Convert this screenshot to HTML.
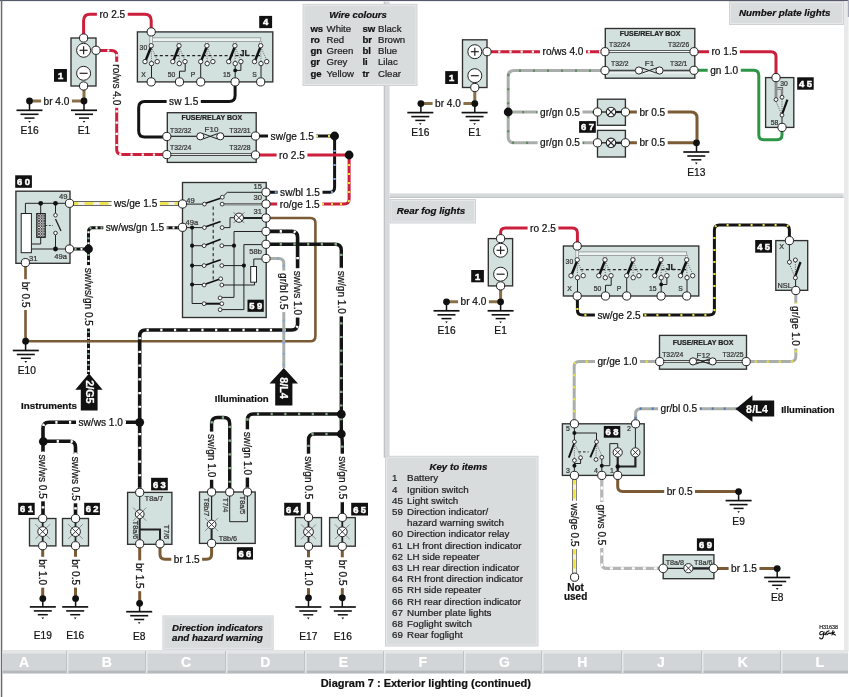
<!DOCTYPE html>
<html><head><meta charset="utf-8"><style>
html,body{margin:0;padding:0;background:#fff;}
svg{display:block;will-change:transform;}
text{font-family:"Liberation Sans",sans-serif;}
</style></head><body>
<svg width="849" height="697" viewBox="0 0 849 697">
<rect width="849" height="697" fill="#fff"/>
<defs><pattern id="hatch" width="2.6" height="2.6" patternUnits="userSpaceOnUse"><rect width="2.6" height="2.6" fill="#e8e8e8"/><path d="M0,2.6 L2.6,0 M0,0 L2.6,2.6" stroke="#333" stroke-width="0.8"/></pattern></defs>
<rect x="0" y="0" width="849" height="1.1" fill="#55596a"/>
<rect x="0.8" y="0" width="1.5" height="697" fill="#6a6c72"/>
<rect x="844" y="1.5" width="4.6" height="650" fill="#e8e9ea"/>
<rect x="847.8" y="0" width="1.2" height="17" fill="#a4a8b8"/>
<rect x="383.8" y="1.5" width="5.8" height="456" fill="#d6dadb"/>
<rect x="383.8" y="1.5" width="1.2" height="456" fill="#bfc3c5"/>
<rect x="389.6" y="193.4" width="454" height="4.6" fill="#d6dadb"/>
<rect x="389.6" y="196.8" width="454" height="1.2" fill="#c2c6c8"/>
<rect x="2.5" y="650.2" width="845.5" height="23.2" fill="#d2d5d7"/>
<rect x="2.5" y="650.2" width="845.5" height="3.3" fill="#e3e5e6"/>
<rect x="2.5" y="670.6" width="845.5" height="2.8" fill="#b6b9bb"/>
<rect x="66" y="651" width="1.2" height="22" fill="#c0c3c5"/><rect x="67.2" y="651" width="1.2" height="22" fill="#eceeef"/>
<rect x="145" y="651" width="1.2" height="22" fill="#c0c3c5"/><rect x="146.2" y="651" width="1.2" height="22" fill="#eceeef"/>
<rect x="225" y="651" width="1.2" height="22" fill="#c0c3c5"/><rect x="226.2" y="651" width="1.2" height="22" fill="#eceeef"/>
<rect x="304" y="651" width="1.2" height="22" fill="#c0c3c5"/><rect x="305.2" y="651" width="1.2" height="22" fill="#eceeef"/>
<rect x="383" y="651" width="1.2" height="22" fill="#c0c3c5"/><rect x="384.2" y="651" width="1.2" height="22" fill="#eceeef"/>
<rect x="463" y="651" width="1.2" height="22" fill="#c0c3c5"/><rect x="464.2" y="651" width="1.2" height="22" fill="#eceeef"/>
<rect x="541" y="651" width="1.2" height="22" fill="#c0c3c5"/><rect x="542.2" y="651" width="1.2" height="22" fill="#eceeef"/>
<rect x="621" y="651" width="1.2" height="22" fill="#c0c3c5"/><rect x="622.2" y="651" width="1.2" height="22" fill="#eceeef"/>
<rect x="701" y="651" width="1.2" height="22" fill="#c0c3c5"/><rect x="702.2" y="651" width="1.2" height="22" fill="#eceeef"/>
<rect x="780" y="651" width="1.2" height="22" fill="#c0c3c5"/><rect x="781.2" y="651" width="1.2" height="22" fill="#eceeef"/>
<rect x="302.5" y="3.8" width="115.0" height="82.2" fill="#cfd3d5"/>
<rect x="304.0" y="5.3" width="112.0" height="79.2" fill="#d9dcdd" stroke="#e6e8e9" stroke-width="1"/>
<rect x="729" y="1" width="115" height="24" fill="#cfd3d5"/>
<rect x="730.5" y="2.5" width="112" height="21" fill="#d9dcdd" stroke="#e6e8e9" stroke-width="1"/>
<rect x="389.6" y="199" width="86.39999999999998" height="24.5" fill="#cfd3d5"/>
<rect x="391.1" y="200.5" width="83.39999999999998" height="21.5" fill="#d9dcdd" stroke="#e6e8e9" stroke-width="1"/>
<rect x="162.4" y="615.4" width="111.29999999999998" height="34.39999999999998" fill="#cfd3d5"/>
<rect x="163.9" y="616.9" width="108.29999999999998" height="31.399999999999977" fill="#d9dcdd" stroke="#e6e8e9" stroke-width="1"/>
<rect x="385" y="455.8" width="153.5" height="190.7" fill="#cfd3d5"/>
<rect x="386.5" y="457.3" width="150.5" height="187.7" fill="#d9dcdd" stroke="#e6e8e9" stroke-width="1"/>
<path d="M83.6,37.5 L83.6,20.7 Q83.6,14.2 90.1,14.2 L144.7,14.2 Q151.2,14.2 151.2,20.7 L151.2,31.9" fill="none" stroke="#cc1f3c" stroke-width="3.0"/>
<path d="M96.0,50.5 L111.7,50.5 Q116.7,50.5 116.7,55.5 L116.7,149.6 Q116.7,154.6 121.7,154.6 L166.8,154.6" fill="none" stroke="#cc1f3c" stroke-width="3.0"/>
<path d="M96.0,50.5 L111.7,50.5 Q116.7,50.5 116.7,55.5 L116.7,149.6 Q116.7,154.6 121.7,154.6 L166.8,154.6" fill="none" stroke="#ffffff" stroke-width="2.25" stroke-dasharray="2.2 9"/>
<path d="M84.0,86.0 L84.0,101.0 Q84.0,101.0 84.0,101.0 L29.5,101.0" fill="none" stroke="#8a7048" stroke-width="3.0"/>
<path d="M235.1,81.9 L235.1,95.5 Q235.1,101.5 229.1,101.5 L144.7,101.5 Q138.7,101.5 138.7,107.5 L138.7,131.0 Q138.7,137.0 144.7,137.0 L166.8,137.0" fill="none" stroke="#141414" stroke-width="3.0"/>
<path d="M256.0,136.0 L334.6,136.0" fill="none" stroke="#141414" stroke-width="3.0"/>
<path d="M256.0,136.0 L334.6,136.0" fill="none" stroke="#eee23a" stroke-width="2.25" stroke-dasharray="2 10"/>
<path d="M334.6,136.0 L334.6,187.3 Q334.6,192.3 329.6,192.3 L265.8,192.3" fill="none" stroke="#141414" stroke-width="3.0"/>
<path d="M334.6,136.0 L334.6,187.3 Q334.6,192.3 329.6,192.3 L265.8,192.3" fill="none" stroke="#7ea6d8" stroke-width="2.25" stroke-dasharray="2 12"/>
<path d="M256.0,155.0 L349.1,155.0" fill="none" stroke="#cc1f3c" stroke-width="3.0"/>
<path d="M349.1,155.0 L349.1,199.0 Q349.1,204.0 344.1,204.0 L265.8,204.0" fill="none" stroke="#cc1f3c" stroke-width="3.0"/>
<path d="M349.1,155.0 L349.1,199.0 Q349.1,204.0 344.1,204.0 L265.8,204.0" fill="none" stroke="#eee23a" stroke-width="2.25" stroke-dasharray="2 7"/>
<path d="M69.5,203.5 L182.5,203.5" fill="none" stroke="#333" stroke-width="4.4"/>
<path d="M69.5,203.5 L182.5,203.5" fill="none" stroke="#f2f2ee" stroke-width="3.2"/>
<path d="M69.5,203.5 L182.5,203.5" fill="none" stroke="#eee23a" stroke-width="2.40" stroke-dasharray="9 6"/>
<path d="M69.5,249.0 L84.5,249.0 Q88.5,249.0 88.5,245.0 L88.5,231.7 Q88.5,227.7 92.5,227.7 L182.5,227.7" fill="none" stroke="#141414" stroke-width="3.0"/>
<path d="M69.5,249.0 L84.5,249.0 Q88.5,249.0 88.5,245.0 L88.5,231.7 Q88.5,227.7 92.5,227.7 L182.5,227.7" fill="none" stroke="#ffffff" stroke-width="2.25" stroke-dasharray="2 9"/>
<path d="M69.5,249.0 L84.5,249.0 Q88.5,249.0 88.5,245.0 L88.5,231.7 Q88.5,227.7 92.5,227.7 L182.5,227.7" fill="none" stroke="#8fb08f" stroke-width="2.25" stroke-dasharray="2 9" stroke-dashoffset="6"/>
<path d="M88.5,249.0 L88.5,374.0" fill="none" stroke="#141414" stroke-width="3.0"/>
<path d="M88.5,249.0 L88.5,374.0" fill="none" stroke="#ffffff" stroke-width="2.25" stroke-dasharray="2 9"/>
<path d="M88.5,249.0 L88.5,374.0" fill="none" stroke="#8fb08f" stroke-width="2.25" stroke-dasharray="2 9" stroke-dashoffset="6"/>
<path d="M25.5,262.6 L25.5,336.2 Q25.5,341.2 30.5,341.2 L310.4,341.2 Q315.4,341.2 315.4,336.2 L315.4,223.0 Q315.4,218.0 310.4,218.0 L266.0,218.0" fill="none" stroke="#7b5b36" stroke-width="2.6"/>
<path d="M266.0,231.4 L291.6,231.4 Q297.6,231.4 297.6,237.4 L297.6,324.0 Q297.6,330.0 291.6,330.0 L145.7,330.0 Q139.7,330.0 139.7,336.0 L139.7,492.4" fill="none" stroke="#141414" stroke-width="3.6"/>
<path d="M266.0,231.4 L291.6,231.4 Q297.6,231.4 297.6,237.4 L297.6,324.0 Q297.6,330.0 291.6,330.0 L145.7,330.0 Q139.7,330.0 139.7,336.0 L139.7,492.4" fill="none" stroke="#ffffff" stroke-width="2.70" stroke-dasharray="2.2 11.5"/>
<path d="M139.7,422.3 L49.0,422.3 Q43.0,422.3 43.0,428.3 L43.0,518.5" fill="none" stroke="#141414" stroke-width="3.6"/>
<path d="M139.7,422.3 L49.0,422.3 Q43.0,422.3 43.0,428.3 L43.0,518.5" fill="none" stroke="#ffffff" stroke-width="2.70" stroke-dasharray="2.2 11.5"/>
<path d="M43.0,441.3 L69.5,441.3 Q75.5,441.3 75.5,447.3 L75.5,518.5" fill="none" stroke="#141414" stroke-width="3.6"/>
<path d="M43.0,441.3 L69.5,441.3 Q75.5,441.3 75.5,447.3 L75.5,518.5" fill="none" stroke="#ffffff" stroke-width="2.70" stroke-dasharray="2.2 11.5"/>
<path d="M266.0,244.3 L335.3,244.3 Q341.3,244.3 341.3,250.3 L341.3,431.0 Q341.3,434.0 341.8,437.0 L341.8,437.0 Q342.3,440.0 342.3,443.0 L342.3,517.4" fill="none" stroke="#141414" stroke-width="3.4"/>
<path d="M266.0,244.3 L335.3,244.3 Q341.3,244.3 341.3,250.3 L341.3,431.0 Q341.3,434.0 341.8,437.0 L341.8,437.0 Q342.3,440.0 342.3,443.0 L342.3,517.4" fill="none" stroke="#8aa88a" stroke-width="2.55" stroke-dasharray="2.2 11.5"/>
<path d="M341.3,414.0 L253.4,414.0 Q247.4,414.0 247.4,420.0 L247.4,492.0" fill="none" stroke="#141414" stroke-width="3.4"/>
<path d="M341.3,414.0 L253.4,414.0 Q247.4,414.0 247.4,420.0 L247.4,492.0" fill="none" stroke="#8aa88a" stroke-width="2.55" stroke-dasharray="2.2 11.5"/>
<path d="M341.3,434.0 L314.5,434.0 Q308.5,434.0 308.5,440.0 L308.5,517.4" fill="none" stroke="#141414" stroke-width="3.4"/>
<path d="M341.3,434.0 L314.5,434.0 Q308.5,434.0 308.5,440.0 L308.5,517.4" fill="none" stroke="#8aa88a" stroke-width="2.55" stroke-dasharray="2.2 11.5"/>
<path d="M211.6,492.0 L211.6,423.5 Q211.6,417.5 217.6,417.5 L223.7,417.5 Q229.7,417.5 229.7,423.5 L229.7,492.0" fill="none" stroke="#141414" stroke-width="3.4"/>
<path d="M211.6,492.0 L211.6,423.5 Q211.6,417.5 217.6,417.5 L223.7,417.5 Q229.7,417.5 229.7,423.5 L229.7,492.0" fill="none" stroke="#8aa88a" stroke-width="2.55" stroke-dasharray="2.2 11.5"/>
<path d="M266.0,258.5 L278.8,258.5 Q283.8,258.5 283.8,263.5 L283.8,368.0" fill="none" stroke="#aaaeaa" stroke-width="3.0"/>
<path d="M266.0,258.5 L278.8,258.5 Q283.8,258.5 283.8,263.5 L283.8,368.0" fill="none" stroke="#7ea6d8" stroke-width="2.25" stroke-dasharray="2 9"/>
<path d="M42.7,545.7 L42.7,598.6" fill="none" stroke="#7b5b36" stroke-width="3.0"/>
<path d="M75.5,545.7 L75.5,598.6" fill="none" stroke="#7b5b36" stroke-width="3.0"/>
<path d="M139.7,543.8 L139.7,603.3" fill="none" stroke="#7b5b36" stroke-width="3.0"/>
<path d="M160.0,543.8 L160.0,554.3 Q160.0,559.3 165.0,559.3 L206.6,559.3 Q211.6,559.3 211.6,554.3 L211.6,543.4" fill="none" stroke="#7b5b36" stroke-width="3.0"/>
<path d="M308.5,546.3 L308.5,598.3" fill="none" stroke="#7b5b36" stroke-width="3.0"/>
<path d="M342.3,546.3 L342.3,598.3" fill="none" stroke="#7b5b36" stroke-width="3.0"/>
<path d="M487.0,51.7 L605.0,51.7" fill="none" stroke="#cc1f3c" stroke-width="3.0"/>
<path d="M487.0,51.7 L605.0,51.7" fill="none" stroke="#ffffff" stroke-width="2.25" stroke-dasharray="2.2 9"/>
<path d="M474.8,87.3 L474.8,103.6 Q474.8,103.6 474.8,103.6 L421.0,103.6" fill="none" stroke="#8a7048" stroke-width="3.0"/>
<path d="M605.0,70.5 L514.2,70.5 Q508.2,70.5 508.2,76.5 L508.2,136.8 Q508.2,142.8 514.2,142.8 L597.2,142.8" fill="none" stroke="#aaaeaa" stroke-width="3.0"/>
<path d="M605.0,70.5 L514.2,70.5 Q508.2,70.5 508.2,76.5 L508.2,136.8 Q508.2,142.8 514.2,142.8 L597.2,142.8" fill="none" stroke="#5c8a5c" stroke-width="2.25" stroke-dasharray="2 12"/>
<path d="M508.2,112.0 L597.2,112.0" fill="none" stroke="#aaaeaa" stroke-width="3.0"/>
<path d="M508.2,112.0 L597.2,112.0" fill="none" stroke="#5c8a5c" stroke-width="2.25" stroke-dasharray="2 12"/>
<path d="M625.2,112.0 L691.0,112.0 Q697.0,112.0 697.0,118.0 L697.0,142.8" fill="none" stroke="#7b5b36" stroke-width="3.0"/>
<path d="M625.2,142.8 L697.0,142.8" fill="none" stroke="#7b5b36" stroke-width="3.0"/>
<path d="M694.0,51.7 L771.0,51.7 Q776.0,51.7 776.0,56.7 L776.0,77.6" fill="none" stroke="#cc1f3c" stroke-width="3.0"/>
<path d="M694.0,70.3 L753.8,70.3 Q758.8,70.3 758.8,75.3 L758.8,134.8 Q758.8,139.8 763.8,139.8 L777.0,139.8 Q782.0,139.8 782.0,134.8 L782.0,127.4" fill="none" stroke="#2c9646" stroke-width="3.0"/>
<path d="M500.6,237.6 L500.6,232.8 Q500.6,228.0 505.4,228.0 L572.4,228.0 Q577.4,228.0 577.4,233.0 L577.4,246.0" fill="none" stroke="#cc1f3c" stroke-width="3.0"/>
<path d="M500.6,285.7 L500.6,301.8 Q500.6,301.8 500.6,301.8 L446.5,301.8" fill="none" stroke="#8a7048" stroke-width="3.0"/>
<path d="M577.4,296.0 L577.4,310.1 Q577.4,315.1 582.4,315.1 L709.4,315.1 Q714.4,315.1 714.4,310.1 L714.4,230.1 Q714.4,225.1 719.4,225.1 L784.4,225.1 Q789.4,225.1 789.4,230.1 L789.4,240.6" fill="none" stroke="#141414" stroke-width="3.0"/>
<path d="M577.4,296.0 L577.4,310.1 Q577.4,315.1 582.4,315.1 L709.4,315.1 Q714.4,315.1 714.4,310.1 L714.4,230.1 Q714.4,225.1 719.4,225.1 L784.4,225.1 Q789.4,225.1 789.4,230.1 L789.4,240.6" fill="none" stroke="#eee23a" stroke-width="2.25" stroke-dasharray="2 10"/>
<path d="M795.8,290.5 L795.8,356.6 Q795.8,361.6 790.8,361.6 L746.2,361.6" fill="none" stroke="#aaaeaa" stroke-width="3.0"/>
<path d="M795.8,290.5 L795.8,356.6 Q795.8,361.6 790.8,361.6 L746.2,361.6" fill="none" stroke="#eee23a" stroke-width="2.25" stroke-dasharray="2 10"/>
<path d="M659.7,361.6 L579.2,361.6 Q574.2,361.6 574.2,366.6 L574.2,423.8" fill="none" stroke="#aaaeaa" stroke-width="3.0"/>
<path d="M659.7,361.6 L579.2,361.6 Q574.2,361.6 574.2,366.6 L574.2,423.8" fill="none" stroke="#eee23a" stroke-width="2.25" stroke-dasharray="2 10"/>
<path d="M737.7,408.7 L640.6,408.7 Q635.6,408.7 635.6,413.7 L635.6,423.8" fill="none" stroke="#aaaeaa" stroke-width="3.0"/>
<path d="M737.7,408.7 L640.6,408.7 Q635.6,408.7 635.6,413.7 L635.6,423.8" fill="none" stroke="#4a78b0" stroke-width="2.25" stroke-dasharray="2 10"/>
<path d="M617.7,475.4 L617.7,486.6 Q617.7,491.6 622.7,491.6 L738.6,491.6" fill="none" stroke="#7b5b36" stroke-width="3.0"/>
<path d="M574.4,475.4 L574.4,577.2" fill="none" stroke="#333" stroke-width="4.4"/>
<path d="M574.4,475.4 L574.4,577.2" fill="none" stroke="#f4f2d8" stroke-width="3.2"/>
<path d="M574.4,475.4 L574.4,577.2" fill="none" stroke="#eee23a" stroke-width="2.40" stroke-dasharray="9 5"/>
<path d="M601.8,475.4 L601.8,563.4 Q601.8,568.4 606.8,568.4 L663.2,568.4" fill="none" stroke="#b4b6b4" stroke-width="3.2"/>
<path d="M601.8,475.4 L601.8,563.4 Q601.8,568.4 606.8,568.4 L663.2,568.4" fill="none" stroke="#ffffff" stroke-width="2.40" stroke-dasharray="3 8"/>
<path d="M713.5,568.4 L777.2,568.4" fill="none" stroke="#7b5b36" stroke-width="3.0"/>
<rect x="96.9" y="10.2" width="30.8" height="8" fill="#fff"/>
<rect x="112.7" y="61.8" width="8" height="46.0" fill="#fff"/>
<rect x="41.1" y="97.0" width="30.8" height="8" fill="#fff"/>
<rect x="166.6" y="97.5" width="34.2" height="8" fill="#fff"/>
<rect x="268.1" y="132.0" width="48.2" height="8" fill="#fff"/>
<rect x="276.6" y="151.0" width="30.8" height="8" fill="#fff"/>
<rect x="277.6" y="188.3" width="44.9" height="8" fill="#fff"/>
<rect x="277.3" y="200.0" width="44.9" height="8" fill="#fff"/>
<rect x="111.6" y="199.5" width="48.2" height="8" fill="#fff"/>
<rect x="103.3" y="223.7" width="63.4" height="8" fill="#fff"/>
<rect x="84.8" y="265.1" width="8" height="63.4" fill="#fff"/>
<rect x="21.5" y="279.2" width="8" height="30.8" fill="#fff"/>
<rect x="293.6" y="268.2" width="8" height="49.3" fill="#fff"/>
<rect x="76.0" y="418.3" width="49.3" height="8" fill="#fff"/>
<rect x="39.0" y="452.0" width="8" height="49.3" fill="#fff"/>
<rect x="71.5" y="454.0" width="8" height="49.3" fill="#fff"/>
<rect x="337.2" y="268.2" width="8" height="48.2" fill="#fff"/>
<rect x="243.4" y="429.3" width="8" height="48.2" fill="#fff"/>
<rect x="207.6" y="431.6" width="8" height="48.2" fill="#fff"/>
<rect x="304.5" y="453.7" width="8" height="48.2" fill="#fff"/>
<rect x="338.3" y="453.7" width="8" height="48.2" fill="#fff"/>
<rect x="279.6" y="270.6" width="8" height="41.5" fill="#fff"/>
<rect x="38.7" y="556.8" width="8" height="30.8" fill="#fff"/>
<rect x="71.5" y="556.8" width="8" height="30.8" fill="#fff"/>
<rect x="135.7" y="560.4" width="8" height="30.8" fill="#fff"/>
<rect x="171.3" y="555.3" width="30.8" height="8" fill="#fff"/>
<rect x="304.5" y="557.3" width="8" height="30.8" fill="#fff"/>
<rect x="338.3" y="557.3" width="8" height="30.8" fill="#fff"/>
<rect x="540.0" y="47.7" width="46.0" height="8" fill="#fff"/>
<rect x="432.6" y="99.6" width="30.8" height="8" fill="#fff"/>
<rect x="537.6" y="108.0" width="44.9" height="8" fill="#fff"/>
<rect x="537.6" y="138.8" width="44.9" height="8" fill="#fff"/>
<rect x="636.9" y="108.0" width="30.8" height="8" fill="#fff"/>
<rect x="636.9" y="138.8" width="30.8" height="8" fill="#fff"/>
<rect x="709.0" y="47.7" width="30.8" height="8" fill="#fff"/>
<rect x="707.7" y="66.3" width="33.1" height="8" fill="#fff"/>
<rect x="527.6" y="224.0" width="30.8" height="8" fill="#fff"/>
<rect x="458.1" y="297.8" width="30.8" height="8" fill="#fff"/>
<rect x="594.9" y="311.1" width="48.2" height="8" fill="#fff"/>
<rect x="791.8" y="303.6" width="8" height="44.9" fill="#fff"/>
<rect x="595.0" y="357.6" width="44.9" height="8" fill="#fff"/>
<rect x="658.1" y="404.7" width="41.5" height="8" fill="#fff"/>
<rect x="664.2" y="487.6" width="30.8" height="8" fill="#fff"/>
<rect x="570.4" y="500.9" width="8" height="48.2" fill="#fff"/>
<rect x="597.8" y="502.0" width="8" height="46.0" fill="#fff"/>
<rect x="728.6" y="564.4" width="30.8" height="8" fill="#fff"/>
<text x="112.3" y="17.8" font-size="10.1" text-anchor="middle" fill="#111"  stroke="#111" stroke-width="0.22">ro 2.5</text>
<text transform="translate(116.7,84.8) rotate(90)" x="0" y="3.6" font-size="10.1" text-anchor="middle" fill="#111"  stroke="#111" stroke-width="0.22">ro/ws 4.0</text>
<text x="56.5" y="104.6" font-size="10.1" text-anchor="middle" fill="#111"  stroke="#111" stroke-width="0.22">br 4.0</text>
<rect x="71.0" y="38.0" width="25.0" height="48.0" fill="#d3e1de" stroke="#303030" stroke-width="1.35"/>
<circle cx="83.6" cy="50.3" r="7" fill="#fff" stroke="#222" stroke-width="1"/>
<line x1="79.6" y1="50.3" x2="87.6" y2="50.3" stroke="#222" stroke-width="1.2"/>
<line x1="83.6" y1="46.3" x2="83.6" y2="54.3" stroke="#222" stroke-width="1.2"/>
<circle cx="83.6" cy="73.3" r="7" fill="#fff" stroke="#222" stroke-width="1"/>
<line x1="79.6" y1="73.3" x2="87.6" y2="73.3" stroke="#222" stroke-width="1.2"/>
<circle cx="83.6" cy="38.0" r="4.1" fill="#fff" stroke="#222" stroke-width="1"/>
<circle cx="83.6" cy="86.0" r="4.1" fill="#fff" stroke="#222" stroke-width="1"/>
<circle cx="96.0" cy="50.3" r="4.1" fill="#fff" stroke="#222" stroke-width="1"/>
<rect x="54.0" y="69.0" width="12.9" height="12.8" fill="#111"/>
<text x="60.5" y="78.8" font-size="9.4" font-weight="bold" fill="#fff" stroke="#fff" stroke-width="0.5" text-anchor="middle" letter-spacing="0">1</text>
<line x1="29.5" y1="101" x2="29.5" y2="110.3" stroke="#111" stroke-width="1.5"/>
<circle cx="29.5" cy="101.0" r="3.4" fill="#111"/>
<line x1="16.5" y1="110.3" x2="42.5" y2="110.3" stroke="#111" stroke-width="1.7"/>
<line x1="20.5" y1="114.3" x2="38.5" y2="114.3" stroke="#111" stroke-width="1.6"/>
<line x1="24.5" y1="118.1" x2="34.5" y2="118.1" stroke="#111" stroke-width="1.5"/>
<path d="M28.2,120.89999999999999 L30.8,120.89999999999999 L29.5,122.7Z" fill="#111"/>
<text x="29.5" y="133.7" font-size="10.2" text-anchor="middle" fill="#111"  stroke="#111" stroke-width="0.22">E16</text>
<line x1="84" y1="101" x2="84" y2="110.3" stroke="#111" stroke-width="1.5"/>
<circle cx="84.0" cy="101.0" r="3.4" fill="#111"/>
<line x1="71" y1="110.3" x2="97" y2="110.3" stroke="#111" stroke-width="1.7"/>
<line x1="75" y1="114.3" x2="93" y2="114.3" stroke="#111" stroke-width="1.6"/>
<line x1="79" y1="118.1" x2="89" y2="118.1" stroke="#111" stroke-width="1.5"/>
<path d="M82.7,120.89999999999999 L85.3,120.89999999999999 L84,122.7Z" fill="#111"/>
<text x="84.0" y="133.7" font-size="10.2" text-anchor="middle" fill="#111"  stroke="#111" stroke-width="0.22">E1</text>
<text x="183.7" y="105.1" font-size="10.1" text-anchor="middle" fill="#111"  stroke="#111" stroke-width="0.22">sw 1.5</text>
<rect x="137.4" y="31.9" width="135.4" height="50.0" fill="#d3e1de" stroke="#303030" stroke-width="1.35"/>
<rect x="151.2" y="37.8" width="109.5" height="3.7" fill="#eef2f1" stroke="#8a9492" stroke-width="0.8"/>
<rect x="149.8" y="34.9" width="2.8" height="9.5" fill="#eef2f1" stroke="#8a9492" stroke-width="0.7"/>
<rect x="177.9" y="41.5" width="2.2" height="2.8" fill="#eef2f1" stroke="#8a9492" stroke-width="0.6"/>
<rect x="205.8" y="41.5" width="2.2" height="2.8" fill="#eef2f1" stroke="#8a9492" stroke-width="0.6"/>
<rect x="233.8" y="41.5" width="2.2" height="2.8" fill="#eef2f1" stroke="#8a9492" stroke-width="0.6"/>
<rect x="259.6" y="41.5" width="2.2" height="2.8" fill="#eef2f1" stroke="#8a9492" stroke-width="0.6"/>
<line x1="154.4" y1="55.6" x2="261.4" y2="55.6" stroke="#222" stroke-width="1.2" stroke-dasharray="3 2.4"/>
<path d="M151.2,46.9 L157.2,59.9 M151.2,46.9 L151.5,61.9" stroke="#333" stroke-width="0.7" stroke-dasharray="1 1.2" fill="none"/>
<line x1="151.2" y1="46.5" x2="145.5" y2="60.9" stroke="#111" stroke-width="2.5"/>
<circle cx="145.0" cy="61.6" r="2.2" fill="#fff" stroke="#222" stroke-width="0.9"/>
<circle cx="151.5" cy="63.6" r="2.2" fill="#fff" stroke="#222" stroke-width="0.9"/>
<circle cx="157.2" cy="61.6" r="2.2" fill="#fff" stroke="#222" stroke-width="0.9"/>
<circle cx="151.2" cy="45.7" r="2.2" fill="#fff" stroke="#222" stroke-width="0.9"/>
<path d="M179.0,46.9 L185.0,59.9 M179.0,46.9 L179.3,61.9" stroke="#333" stroke-width="0.7" stroke-dasharray="1 1.2" fill="none"/>
<line x1="179.0" y1="46.5" x2="173.3" y2="60.9" stroke="#111" stroke-width="2.5"/>
<circle cx="172.8" cy="61.6" r="2.2" fill="#fff" stroke="#222" stroke-width="0.9"/>
<circle cx="179.3" cy="63.6" r="2.2" fill="#fff" stroke="#222" stroke-width="0.9"/>
<circle cx="185.0" cy="61.6" r="2.2" fill="#fff" stroke="#222" stroke-width="0.9"/>
<circle cx="179.0" cy="45.7" r="2.2" fill="#fff" stroke="#222" stroke-width="0.9"/>
<path d="M206.9,46.9 L212.9,59.9 M206.9,46.9 L207.2,61.9" stroke="#333" stroke-width="0.7" stroke-dasharray="1 1.2" fill="none"/>
<line x1="206.9" y1="46.5" x2="201.2" y2="60.9" stroke="#111" stroke-width="2.5"/>
<circle cx="200.7" cy="61.6" r="2.2" fill="#fff" stroke="#222" stroke-width="0.9"/>
<circle cx="207.2" cy="63.6" r="2.2" fill="#fff" stroke="#222" stroke-width="0.9"/>
<circle cx="212.9" cy="61.6" r="2.2" fill="#fff" stroke="#222" stroke-width="0.9"/>
<circle cx="206.9" cy="45.7" r="2.2" fill="#fff" stroke="#222" stroke-width="0.9"/>
<path d="M234.9,46.9 L240.9,59.9 M234.9,46.9 L235.2,61.9" stroke="#333" stroke-width="0.7" stroke-dasharray="1 1.2" fill="none"/>
<line x1="234.9" y1="46.5" x2="229.2" y2="60.9" stroke="#111" stroke-width="2.5"/>
<circle cx="228.7" cy="61.6" r="2.2" fill="#fff" stroke="#222" stroke-width="0.9"/>
<circle cx="235.2" cy="63.6" r="2.2" fill="#fff" stroke="#222" stroke-width="0.9"/>
<circle cx="240.9" cy="61.6" r="2.2" fill="#fff" stroke="#222" stroke-width="0.9"/>
<circle cx="234.9" cy="45.7" r="2.2" fill="#fff" stroke="#222" stroke-width="0.9"/>
<path d="M260.7,46.9 L266.7,59.9 M260.7,46.9 L261.0,61.9" stroke="#333" stroke-width="0.7" stroke-dasharray="1 1.2" fill="none"/>
<line x1="260.7" y1="46.5" x2="255.0" y2="60.9" stroke="#111" stroke-width="2.5"/>
<circle cx="254.5" cy="61.6" r="2.2" fill="#fff" stroke="#222" stroke-width="0.9"/>
<circle cx="261.0" cy="63.6" r="2.2" fill="#fff" stroke="#222" stroke-width="0.9"/>
<circle cx="266.7" cy="61.6" r="2.2" fill="#fff" stroke="#222" stroke-width="0.9"/>
<circle cx="260.7" cy="45.7" r="2.2" fill="#fff" stroke="#222" stroke-width="0.9"/>
<line x1="151.5" y1="65.8" x2="151.5" y2="77.9" stroke="#222" stroke-width="1" />
<path d="M185.2,63.8 L185.2,71.2 L179.5,71.2 L179.5,77.9" fill="none" stroke="#222" stroke-width="1" />
<line x1="200.7" y1="63.8" x2="200.7" y2="77.9" stroke="#222" stroke-width="1" />
<path d="M235.2,65.8 L235.2,77.9" fill="none" stroke="#222" stroke-width="1" />
<path d="M240.9,63.8 L240.9,70.4 L235.2,70.4" fill="none" stroke="#222" stroke-width="1" />
<circle cx="235.2" cy="70.4" r="1.9" fill="#111"/>
<line x1="261.0" y1="65.8" x2="261.0" y2="77.9" stroke="#222" stroke-width="1" />
<text x="239.7" y="56.1" font-size="8.6" font-weight="bold" fill="#222" stroke="#222" stroke-width="0.22">JL</text>
<text x="143.4" y="49.5" font-size="6.8" fill="#333" text-anchor="middle" stroke="#333" stroke-width="0.22">30</text>
<text x="143.6" y="77.0" font-size="6.8" fill="#333" text-anchor="middle" stroke="#333" stroke-width="0.22">X</text>
<text x="171.5" y="77.0" font-size="6.8" fill="#333" text-anchor="middle" stroke="#333" stroke-width="0.22">50</text>
<text x="192.9" y="77.0" font-size="6.8" fill="#333" text-anchor="middle" stroke="#333" stroke-width="0.22">P</text>
<text x="226.8" y="77.0" font-size="6.8" fill="#333" text-anchor="middle" stroke="#333" stroke-width="0.22">15</text>
<text x="254.6" y="77.0" font-size="6.8" fill="#333" text-anchor="middle" stroke="#333" stroke-width="0.22">S</text>
<circle cx="151.2" cy="31.9" r="4.1" fill="#fff" stroke="#222" stroke-width="1"/>
<circle cx="151.2" cy="81.9" r="4.1" fill="#fff" stroke="#222" stroke-width="1"/>
<circle cx="179.5" cy="81.9" r="4.1" fill="#fff" stroke="#222" stroke-width="1"/>
<circle cx="200.7" cy="81.9" r="4.1" fill="#fff" stroke="#222" stroke-width="1"/>
<circle cx="235.1" cy="81.9" r="4.1" fill="#fff" stroke="#222" stroke-width="1"/>
<circle cx="260.7" cy="81.9" r="4.1" fill="#fff" stroke="#222" stroke-width="1"/>
<rect x="259.2" y="15.9" width="12.9" height="12.2" fill="#111"/>
<text x="265.6" y="25.4" font-size="9.4" font-weight="bold" fill="#fff" stroke="#fff" stroke-width="0.5" text-anchor="middle" letter-spacing="0">4</text>
<text x="292.2" y="139.6" font-size="10.1" text-anchor="middle" fill="#111"  stroke="#111" stroke-width="0.22">sw/ge 1.5</text>
<text x="292.0" y="158.6" font-size="10.1" text-anchor="middle" fill="#111"  stroke="#111" stroke-width="0.22">ro 2.5</text>
<text x="300.0" y="195.9" font-size="10.1" text-anchor="middle" fill="#111"  stroke="#111" stroke-width="0.22">sw/bl 1.5</text>
<text x="299.7" y="207.6" font-size="10.1" text-anchor="middle" fill="#111"  stroke="#111" stroke-width="0.22">ro/ge 1.5</text>
<rect x="167.3" y="112.7" width="88.9" height="49.7" fill="#d3e1de" stroke="#303030" stroke-width="1.35"/>
<text x="211.8" y="120.4" font-size="7" font-weight="bold" fill="#222" text-anchor="middle" stroke="#222" stroke-width="0.22">FUSE/RELAY BOX</text>
<text x="180.7" y="132.7" font-size="6.8" fill="#333" text-anchor="middle" stroke="#333" stroke-width="0.22">T32/32</text>
<text x="180.7" y="150.4" font-size="6.8" fill="#333" text-anchor="middle" stroke="#333" stroke-width="0.22">T32/24</text>
<text x="239.9" y="132.7" font-size="6.8" fill="#333" text-anchor="middle" stroke="#333" stroke-width="0.22">T32/31</text>
<text x="239.9" y="150.4" font-size="6.8" fill="#333" text-anchor="middle" stroke="#333" stroke-width="0.22">T32/28</text>
<text x="211.5" y="132.1" font-size="8" fill="#333" text-anchor="middle" stroke="#333" stroke-width="0.22">F10</text>
<line x1="167.3" y1="136.3" x2="197.0" y2="136.3" stroke="#222" stroke-width="1.2" />
<line x1="223.6" y1="136.3" x2="256.2" y2="136.3" stroke="#222" stroke-width="1.2" />
<line x1="167.3" y1="154.6" x2="256.2" y2="154.6" stroke="#333" stroke-width="2.6" />
<line x1="167.3" y1="154.6" x2="256.2" y2="154.6" stroke="#f6f8f8" stroke-width="1.0" />
<path d="M203.3,133.7 L217.3,138.9 M203.3,138.9 L217.3,133.7" stroke="#222" stroke-width="1" fill="none"/>
<circle cx="200.3" cy="136.3" r="3.6" fill="#fff" stroke="#222" stroke-width="1"/>
<circle cx="220.3" cy="136.3" r="3.6" fill="#fff" stroke="#222" stroke-width="1"/>
<circle cx="166.8" cy="136.5" r="4.1" fill="#fff" stroke="#222" stroke-width="1"/>
<circle cx="166.8" cy="154.6" r="4.1" fill="#fff" stroke="#222" stroke-width="1"/>
<circle cx="255.5" cy="136.0" r="4.1" fill="#fff" stroke="#222" stroke-width="1"/>
<circle cx="255.5" cy="155.0" r="4.1" fill="#fff" stroke="#222" stroke-width="1"/>
<circle cx="334.6" cy="136.0" r="4.4" fill="#111"/>
<circle cx="349.1" cy="155.0" r="4.4" fill="#111"/>
<text x="135.7" y="207.1" font-size="10.1" text-anchor="middle" fill="#111"  stroke="#111" stroke-width="0.22">ws/ge 1.5</text>
<text x="135.0" y="231.3" font-size="10.1" text-anchor="middle" fill="#111"  stroke="#111" stroke-width="0.22">sw/ws/gn 1.5</text>
<text transform="translate(88.8,296.8) rotate(90)" x="0" y="3.6" font-size="10.1" text-anchor="middle" fill="#111"  stroke="#111" stroke-width="0.22">sw/ws/gn 0.5</text>
<text transform="translate(25.5,294.6) rotate(90)" x="0" y="3.6" font-size="10.1" text-anchor="middle" fill="#111"  stroke="#111" stroke-width="0.22">br 0.5</text>
<rect x="15.9" y="191.2" width="54.1" height="72.1" fill="#d3e1de" stroke="#303030" stroke-width="1.35"/>
<rect x="15.2" y="175.3" width="16.7" height="12.5" fill="#111"/>
<text x="24.7" y="185.0" font-size="9.4" font-weight="bold" fill="#fff" stroke="#fff" stroke-width="0.5" text-anchor="middle" letter-spacing="2.4">60</text>
<path d="M25.4,213.5 L25.4,203.3 L69.0,203.3" fill="none" stroke="#222" stroke-width="1" />
<path d="M31.4,249.0 L69.0,249.0" fill="none" stroke="#222" stroke-width="1" />
<line x1="40.7" y1="203.3" x2="40.7" y2="213.5" stroke="#222" stroke-width="1.0" />
<line x1="40.7" y1="237.4" x2="40.7" y2="244.0" stroke="#222" stroke-width="1.0" />
<path d="M40.7,244.0 L31.4,244.0" fill="none" stroke="#222" stroke-width="1" />
<rect x="21.2" y="213.5" width="10.2" height="39.2" fill="#fff" stroke="#222" stroke-width="1"/>
<rect x="36.7" y="213.5" width="8.6" height="23.9" fill="#555" stroke="#222" stroke-width="1"/>
<rect x="37.5" y="214.3" width="7" height="22.3" fill="url(#hatch)"/>
<line x1="55.5" y1="203.3" x2="55.5" y2="213.0" stroke="#222" stroke-width="1.0" />
<line x1="55.5" y1="235.0" x2="55.5" y2="249.0" stroke="#222" stroke-width="1.0" />
<line x1="55.5" y1="219" x2="61" y2="231" stroke="#222" stroke-width="1.3"/>
<line x1="45.3" y1="225.5" x2="53.0" y2="225.5" stroke="#222" stroke-width="0.8" stroke-dasharray="2 1.5"/>
<circle cx="55.5" cy="215.2" r="1.8" fill="#fff" stroke="#222" stroke-width="0.9"/>
<circle cx="55.5" cy="233" r="1.8" fill="#fff" stroke="#222" stroke-width="0.9"/>
<circle cx="40.7" cy="203.3" r="2.4" fill="#111"/>
<circle cx="55.5" cy="203.3" r="2.4" fill="#111"/>
<circle cx="55.5" cy="249.0" r="2.4" fill="#111"/>
<text x="67.5" y="199" font-size="7.6" fill="#333" text-anchor="end" stroke="#333" stroke-width="0.22">49</text>
<text x="67" y="258.5" font-size="7.6" fill="#333" text-anchor="end" stroke="#333" stroke-width="0.22">49a</text>
<text x="29" y="260.5" font-size="7.6" fill="#333" stroke="#333" stroke-width="0.22">31</text>
<circle cx="69.5" cy="203.3" r="4.1" fill="#fff" stroke="#222" stroke-width="1"/>
<circle cx="69.5" cy="249.0" r="4.1" fill="#fff" stroke="#222" stroke-width="1"/>
<circle cx="25.4" cy="262.6" r="4.1" fill="#fff" stroke="#222" stroke-width="1"/>
<circle cx="88.5" cy="249.0" r="4.4" fill="#111"/>
<line x1="25.6" y1="341.2" x2="25.6" y2="350.5" stroke="#111" stroke-width="1.5"/>
<circle cx="25.6" cy="341.2" r="3.4" fill="#111"/>
<line x1="12.8" y1="350.5" x2="38.8" y2="350.5" stroke="#111" stroke-width="1.7"/>
<line x1="16.8" y1="354.5" x2="34.8" y2="354.5" stroke="#111" stroke-width="1.6"/>
<line x1="20.8" y1="358.3" x2="30.8" y2="358.3" stroke="#111" stroke-width="1.5"/>
<path d="M24.5,361.1 L27.1,361.1 L25.8,362.9Z" fill="#111"/>
<text x="26.8" y="374.0" font-size="10.2" text-anchor="middle" fill="#111"  stroke="#111" stroke-width="0.22">E10</text>
<path d="M89,373.6 L102.6,389.7 L97.6,389.7 L97.6,410.4 L80.8,410.4 L80.8,389.7 L75.3,389.7 Z" fill="#111"/>
<text transform="translate(89.5,391.9) rotate(90)" x="0" y="3.9" font-size="10.8" font-weight="bold" fill="#fff" text-anchor="middle" stroke="#fff" stroke-width="0.22">2/G5</text>
<text x="21" y="408.5" font-size="9.8" font-weight="bold" fill="#111" stroke="#111" stroke-width="0.22">Instruments</text>
<text transform="translate(297.6,292.9) rotate(90)" x="0" y="3.6" font-size="10.1" text-anchor="middle" fill="#111"  stroke="#111" stroke-width="0.22">sw/ws 1.0</text>
<text x="100.7" y="425.9" font-size="10.1" text-anchor="middle" fill="#111"  stroke="#111" stroke-width="0.22">sw/ws 1.0</text>
<text transform="translate(43.0,476.7) rotate(90)" x="0" y="3.6" font-size="10.1" text-anchor="middle" fill="#111"  stroke="#111" stroke-width="0.22">sw/ws 0.5</text>
<text transform="translate(75.5,478.7) rotate(90)" x="0" y="3.6" font-size="10.1" text-anchor="middle" fill="#111"  stroke="#111" stroke-width="0.22">sw/ws 0.5</text>
<text transform="translate(341.2,292.3) rotate(90)" x="0" y="3.6" font-size="10.1" text-anchor="middle" fill="#111"  stroke="#111" stroke-width="0.22">sw/gn 1.0</text>
<text transform="translate(247.4,453.4) rotate(90)" x="0" y="3.6" font-size="10.1" text-anchor="middle" fill="#111"  stroke="#111" stroke-width="0.22">sw/gn 1.0</text>
<text transform="translate(211.6,455.7) rotate(90)" x="0" y="3.6" font-size="10.1" text-anchor="middle" fill="#111"  stroke="#111" stroke-width="0.22">sw/gn 1.0</text>
<text transform="translate(308.5,477.8) rotate(90)" x="0" y="3.6" font-size="10.1" text-anchor="middle" fill="#111"  stroke="#111" stroke-width="0.22">sw/gn 0.5</text>
<text transform="translate(342.3,477.8) rotate(90)" x="0" y="3.6" font-size="10.1" text-anchor="middle" fill="#111"  stroke="#111" stroke-width="0.22">sw/gn 0.5</text>
<text transform="translate(283.6,291.3) rotate(90)" x="0" y="3.6" font-size="10.1" text-anchor="middle" fill="#111"  stroke="#111" stroke-width="0.22">gr/bl 0.5</text>
<circle cx="139.7" cy="422.3" r="4.4" fill="#111"/>
<circle cx="43.3" cy="441.5" r="4.4" fill="#111"/>
<circle cx="341.3" cy="414.2" r="4.4" fill="#111"/>
<circle cx="341.3" cy="434.0" r="4.4" fill="#111"/>
<rect x="182.5" y="182.5" width="83.7" height="135.0" fill="#d3e1de" stroke="#303030" stroke-width="1.35"/>
<rect x="247.5" y="299.7" width="16.3" height="12.1" fill="#111"/>
<text x="256.9" y="309.1" font-size="9.4" font-weight="bold" fill="#fff" stroke="#fff" stroke-width="0.5" text-anchor="middle" letter-spacing="2.4">59</text>
<line x1="213.2" y1="206.6" x2="213.2" y2="280.0" stroke="#222" stroke-width="1.1" stroke-dasharray="3.2 2.6"/>
<path d="M186.0,204.1 L202.5,204.1" fill="none" stroke="#222" stroke-width="1.0" />
<line x1="205.7" y1="203.3" x2="220.6" y2="198.3" stroke="#111" stroke-width="1.7"/>
<path d="M223.5,196.0 L227.3,192.3 L262.0,192.3" fill="none" stroke="#222" stroke-width="1.0" />
<path d="M224.0,204.1 L262.0,204.1" fill="none" stroke="#333" stroke-width="2.2" />
<path d="M224.0,204.1 L262.0,204.1" fill="none" stroke="#fff" stroke-width="0.8" />
<circle cx="204.4" cy="204.1" r="1.9" fill="#fff" stroke="#222" stroke-width="0.9"/>
<circle cx="222.3" cy="197.2" r="1.9" fill="#fff" stroke="#222" stroke-width="0.9"/>
<circle cx="222.1" cy="204.1" r="1.9" fill="#fff" stroke="#222" stroke-width="0.9"/>
<path d="M186.0,227.6 L202.5,227.6" fill="none" stroke="#222" stroke-width="1.0" />
<line x1="205.7" y1="226.8" x2="220.6" y2="221.5" stroke="#111" stroke-width="1.7"/>
<path d="M224.0,227.6 L230.0,227.6 L230.0,217.7 L234.0,217.7" fill="none" stroke="#222" stroke-width="1.0" />
<circle cx="204.4" cy="227.6" r="1.9" fill="#fff" stroke="#222" stroke-width="0.9"/>
<circle cx="222.1" cy="227.6" r="1.9" fill="#fff" stroke="#222" stroke-width="0.9"/>
<path d="M233.5,212.3 L244.3,223.1 M233.5,223.1 L244.3,212.3" stroke="#444" stroke-width="0.7"/>
<circle cx="238.9" cy="217.7" r="4.6" fill="#fff" stroke="#222" stroke-width="1"/>
<path d="M235.6,214.4 L242.2,221 M235.6,221 L242.2,214.4" stroke="#222" stroke-width="0.9"/>
<path d="M243.5,218.0 L262.0,218.0" fill="none" stroke="#222" stroke-width="2" />
<path d="M192.1,227.6 L192.1,303.5 L202.3,303.5" fill="none" stroke="#222" stroke-width="1.0" />
<path d="M192.1,245.7 L202.5,245.7" fill="none" stroke="#222" stroke-width="1.0" />
<path d="M192.1,265.6 L202.5,265.6" fill="none" stroke="#222" stroke-width="1.0" />
<path d="M192.1,284.5 L202.5,284.5" fill="none" stroke="#222" stroke-width="1.0" />
<circle cx="192.1" cy="227.6" r="2.1" fill="#111"/>
<circle cx="192.1" cy="245.7" r="2.1" fill="#111"/>
<circle cx="192.1" cy="265.6" r="2.1" fill="#111"/>
<circle cx="192.1" cy="284.5" r="2.1" fill="#111"/>
<line x1="205.7" y1="245.0" x2="220.7" y2="239.3" stroke="#111" stroke-width="1.7"/>
<circle cx="204.1" cy="245.7" r="1.9" fill="#fff" stroke="#222" stroke-width="0.9"/>
<circle cx="221.8" cy="245.7" r="1.9" fill="#fff" stroke="#222" stroke-width="0.9"/>
<path d="M223.7,245.7 L234.0,245.7" fill="none" stroke="#222" stroke-width="1.0" />
<path d="M262.0,231.5 L234.0,231.5 L234.0,297.4 L222.0,297.4" fill="none" stroke="#222" stroke-width="1.0" />
<circle cx="234.0" cy="245.7" r="2.1" fill="#111"/>
<line x1="205.7" y1="265.0" x2="220.7" y2="259.7" stroke="#111" stroke-width="1.7"/>
<circle cx="204.1" cy="265.6" r="1.9" fill="#fff" stroke="#222" stroke-width="0.9"/>
<circle cx="221.8" cy="265.6" r="1.9" fill="#fff" stroke="#222" stroke-width="0.9"/>
<path d="M223.7,265.6 L243.9,265.6" fill="none" stroke="#222" stroke-width="1.0" />
<path d="M262.0,244.6 L243.9,244.6 L243.9,309.6 L222.0,309.6" fill="none" stroke="#222" stroke-width="1.0" />
<circle cx="243.9" cy="265.6" r="2.1" fill="#111"/>
<line x1="205.7" y1="284.0" x2="220.7" y2="278.8" stroke="#111" stroke-width="1.7"/>
<circle cx="204.1" cy="285.0" r="1.9" fill="#fff" stroke="#222" stroke-width="0.9"/>
<circle cx="220.7" cy="278.8" r="1.9" fill="#fff" stroke="#222" stroke-width="0.9"/>
<circle cx="221.8" cy="285.0" r="1.9" fill="#fff" stroke="#222" stroke-width="0.9"/>
<path d="M223.7,285.0 L254.5,285.0 L254.5,282.2" fill="none" stroke="#222" stroke-width="1.0" />
<rect x="250.7" y="266.5" width="5.8" height="15.7" fill="#fff" stroke="#222" stroke-width="1"/>
<path d="M253.8,266.5 L253.8,259.0 L262.0,259.0" fill="none" stroke="#222" stroke-width="1.0" />
<line x1="205" y1="303.7" x2="221" y2="303.7" stroke="#111" stroke-width="2"/>
<circle cx="204.1" cy="303.7" r="1.9" fill="#fff" stroke="#222" stroke-width="0.9"/>
<circle cx="220.1" cy="297.9" r="1.9" fill="#fff" stroke="#222" stroke-width="0.9"/>
<circle cx="221.8" cy="303.7" r="1.9" fill="#fff" stroke="#222" stroke-width="0.9"/>
<circle cx="220.1" cy="309.7" r="1.9" fill="#fff" stroke="#222" stroke-width="0.9"/>
<text x="186.3" y="202.7" font-size="7.6" fill="#333" stroke="#333" stroke-width="0.22">49</text>
<text x="185.5" y="225.3" font-size="7.6" fill="#333" stroke="#333" stroke-width="0.22">49a</text>
<text x="262" y="188.6" font-size="7.6" fill="#333" text-anchor="end" stroke="#333" stroke-width="0.22">15</text>
<text x="262" y="200.4" font-size="7.6" fill="#333" text-anchor="end" stroke="#333" stroke-width="0.22">30</text>
<text x="262" y="214.4" font-size="7.6" fill="#333" text-anchor="end" stroke="#333" stroke-width="0.22">31</text>
<text x="262" y="254.2" font-size="7.6" fill="#333" text-anchor="end" stroke="#333" stroke-width="0.22">58b</text>
<circle cx="182.5" cy="204.0" r="4.1" fill="#fff" stroke="#222" stroke-width="1"/>
<circle cx="182.5" cy="227.3" r="4.1" fill="#fff" stroke="#222" stroke-width="1"/>
<circle cx="266.0" cy="192.2" r="4.1" fill="#fff" stroke="#222" stroke-width="1"/>
<circle cx="266.0" cy="204.0" r="4.1" fill="#fff" stroke="#222" stroke-width="1"/>
<circle cx="266.0" cy="218.0" r="4.1" fill="#fff" stroke="#222" stroke-width="1"/>
<circle cx="266.0" cy="231.4" r="4.1" fill="#fff" stroke="#222" stroke-width="1"/>
<circle cx="266.0" cy="244.3" r="4.1" fill="#fff" stroke="#222" stroke-width="1"/>
<circle cx="266.0" cy="258.5" r="4.1" fill="#fff" stroke="#222" stroke-width="1"/>
<path d="M283.8,368 L298,383.5 L292.4,383.5 L292.4,405.6 L275.2,405.6 L275.2,383.5 L269.5,383.5 Z" fill="#111"/>
<text transform="translate(284,388) rotate(90)" x="0" y="3.9" font-size="10.8" font-weight="bold" fill="#fff" text-anchor="middle" stroke="#fff" stroke-width="0.22">8/L4</text>
<text x="214.8" y="402" font-size="9.6" font-weight="bold" fill="#111" stroke="#111" stroke-width="0.22">Illumination</text>
<rect x="29.5" y="518.5" width="26.4" height="27.4" fill="#d3e1de" stroke="#303030" stroke-width="1.35"/>
<line x1="42.7" y1="522.0" x2="42.7" y2="527.0" stroke="#222" stroke-width="1.8" />
<line x1="42.7" y1="536.5" x2="42.7" y2="541.5" stroke="#222" stroke-width="1.8" />
<circle cx="42.7" cy="531.6" r="4.9" fill="#fff" stroke="#222" stroke-width="1"/>
<path d="M39.3,528.2L46.1,535.0M39.3,535.0L46.1,528.2" stroke="#222" stroke-width="0.9"/>
<path d="M35.4,524.2L39.3,528.2M46.1,528.2L50.1,524.2M35.4,539.0L39.3,535.0M46.1,535.0L50.1,539.0" stroke="#555" stroke-width="0.6"/>
<circle cx="42.7" cy="518.5" r="4.1" fill="#fff" stroke="#222" stroke-width="1"/>
<circle cx="42.7" cy="545.7" r="4.1" fill="#fff" stroke="#222" stroke-width="1"/>
<rect x="18.2" y="502.8" width="16.5" height="12.2" fill="#111"/>
<text x="27.7" y="512.3" font-size="9.4" font-weight="bold" fill="#fff" stroke="#fff" stroke-width="0.5" text-anchor="middle" letter-spacing="2.4">61</text>
<rect x="62.5" y="518.5" width="26.0" height="27.4" fill="#d3e1de" stroke="#303030" stroke-width="1.35"/>
<line x1="75.5" y1="522.0" x2="75.5" y2="527.0" stroke="#222" stroke-width="1.8" />
<line x1="75.5" y1="536.5" x2="75.5" y2="541.5" stroke="#222" stroke-width="1.8" />
<circle cx="75.5" cy="531.6" r="4.9" fill="#fff" stroke="#222" stroke-width="1"/>
<path d="M72.1,528.2L78.9,535.0M72.1,535.0L78.9,528.2" stroke="#222" stroke-width="0.9"/>
<path d="M68.2,524.2L72.1,528.2M78.9,528.2L82.8,524.2M68.2,539.0L72.1,535.0M78.9,535.0L82.8,539.0" stroke="#555" stroke-width="0.6"/>
<circle cx="75.5" cy="518.5" r="4.1" fill="#fff" stroke="#222" stroke-width="1"/>
<circle cx="75.5" cy="545.7" r="4.1" fill="#fff" stroke="#222" stroke-width="1"/>
<rect x="84.2" y="502.8" width="15.7" height="12.2" fill="#111"/>
<text x="93.3" y="512.3" font-size="9.4" font-weight="bold" fill="#fff" stroke="#fff" stroke-width="0.5" text-anchor="middle" letter-spacing="2.4">62</text>
<text transform="translate(42.7,572.2) rotate(90)" x="0" y="3.6" font-size="10.1" text-anchor="middle" fill="#111"  stroke="#111" stroke-width="0.22">br 1.0</text>
<text transform="translate(75.5,572.2) rotate(90)" x="0" y="3.6" font-size="10.1" text-anchor="middle" fill="#111"  stroke="#111" stroke-width="0.22">br 0.5</text>
<line x1="42.8" y1="598.6" x2="42.8" y2="606.9" stroke="#111" stroke-width="1.5"/>
<circle cx="42.8" cy="598.6" r="3.4" fill="#111"/>
<line x1="29.799999999999997" y1="606.9" x2="55.8" y2="606.9" stroke="#111" stroke-width="1.7"/>
<line x1="33.8" y1="610.9" x2="51.8" y2="610.9" stroke="#111" stroke-width="1.6"/>
<line x1="37.8" y1="614.6999999999999" x2="47.8" y2="614.6999999999999" stroke="#111" stroke-width="1.5"/>
<path d="M41.5,617.5 L44.099999999999994,617.5 L42.8,619.3Z" fill="#111"/>
<text x="42.8" y="639.1" font-size="10.2" text-anchor="middle" fill="#111"  stroke="#111" stroke-width="0.22">E19</text>
<line x1="75.6" y1="598.6" x2="75.6" y2="606.9" stroke="#111" stroke-width="1.5"/>
<circle cx="75.6" cy="598.6" r="3.4" fill="#111"/>
<line x1="62.2" y1="606.9" x2="88.2" y2="606.9" stroke="#111" stroke-width="1.7"/>
<line x1="66.2" y1="610.9" x2="84.2" y2="610.9" stroke="#111" stroke-width="1.6"/>
<line x1="70.2" y1="614.6999999999999" x2="80.2" y2="614.6999999999999" stroke="#111" stroke-width="1.5"/>
<path d="M73.9,617.5 L76.5,617.5 L75.2,619.3Z" fill="#111"/>
<text x="75.2" y="639.1" font-size="10.2" text-anchor="middle" fill="#111"  stroke="#111" stroke-width="0.22">E16</text>
<text transform="translate(139.7,575.8) rotate(90)" x="0" y="3.6" font-size="10.1" text-anchor="middle" fill="#111"  stroke="#111" stroke-width="0.22">br 1.5</text>
<text x="186.7" y="562.9" font-size="10.1" text-anchor="middle" fill="#111"  stroke="#111" stroke-width="0.22">br 1.5</text>
<rect x="127.6" y="492.4" width="44.3" height="51.9" fill="#d3e1de" stroke="#303030" stroke-width="1.35"/>
<line x1="139.7" y1="496.0" x2="139.7" y2="510.0" stroke="#222" stroke-width="1.2" />
<path d="M139.7,519.0 L139.7,540.0" fill="none" stroke="#222" stroke-width="2" />
<path d="M139.7,529.5 L160.0,529.5 L160.0,540.0" fill="none" stroke="#222" stroke-width="2" />
<circle cx="139.7" cy="514.2" r="4.4" fill="#fff" stroke="#222" stroke-width="1"/>
<path d="M136.6,511.1L142.8,517.3M136.6,517.3L142.8,511.1" stroke="#222" stroke-width="0.9"/>
<path d="M133.1,507.6L136.6,511.1M142.8,511.1L146.3,507.6M133.1,520.8L136.6,517.3M142.8,517.3L146.3,520.8" stroke="#555" stroke-width="0.6"/>
<text x="144.8" y="500.8" font-size="7.2" fill="#333" stroke="#333" stroke-width="0.22">T8a/7</text>
<text transform="translate(135.3,530) rotate(90)" x="0" y="2.5" font-size="7.2" fill="#333" text-anchor="middle" stroke="#333" stroke-width="0.22">T8a/6</text>
<text transform="translate(166.5,532) rotate(90)" x="0" y="2.5" font-size="7.2" fill="#333" text-anchor="middle" stroke="#333" stroke-width="0.22">T7/6</text>
<circle cx="139.7" cy="492.4" r="4.1" fill="#fff" stroke="#222" stroke-width="1"/>
<circle cx="139.7" cy="543.8" r="4.1" fill="#fff" stroke="#222" stroke-width="1"/>
<circle cx="160.0" cy="543.8" r="4.1" fill="#fff" stroke="#222" stroke-width="1"/>
<rect x="151.1" y="477.8" width="16.7" height="12.6" fill="#111"/>
<text x="160.6" y="487.5" font-size="9.4" font-weight="bold" fill="#fff" stroke="#fff" stroke-width="0.5" text-anchor="middle" letter-spacing="2.4">63</text>
<line x1="139.6" y1="603.3" x2="139.6" y2="611.7" stroke="#111" stroke-width="1.5"/>
<circle cx="139.6" cy="603.3" r="3.4" fill="#111"/>
<line x1="126.19999999999999" y1="611.7" x2="152.2" y2="611.7" stroke="#111" stroke-width="1.7"/>
<line x1="130.2" y1="615.7" x2="148.2" y2="615.7" stroke="#111" stroke-width="1.6"/>
<line x1="134.2" y1="619.5" x2="144.2" y2="619.5" stroke="#111" stroke-width="1.5"/>
<path d="M137.89999999999998,622.3000000000001 L140.5,622.3000000000001 L139.2,624.1Z" fill="#111"/>
<text x="139.2" y="640.0" font-size="10.2" text-anchor="middle" fill="#111"  stroke="#111" stroke-width="0.22">E8</text>
<rect x="199.5" y="492.0" width="55.7" height="51.4" fill="#d3e1de" stroke="#303030" stroke-width="1.35"/>
<path d="M229.7,492.0 L229.7,521.7 L247.4,521.7 L247.4,492.0" fill="none" stroke="#222" stroke-width="1" />
<line x1="211.6" y1="496.0" x2="211.6" y2="520.0" stroke="#222" stroke-width="1.2" />
<line x1="211.6" y1="529.0" x2="211.6" y2="540.0" stroke="#222" stroke-width="2" />
<circle cx="211.6" cy="524.5" r="4.4" fill="#fff" stroke="#222" stroke-width="1"/>
<path d="M208.5,521.4L214.7,527.6M208.5,527.6L214.7,521.4" stroke="#222" stroke-width="0.9"/>
<path d="M205.0,517.9L208.5,521.4M214.7,521.4L218.2,517.9M205.0,531.1L208.5,527.6M214.7,527.6L218.2,531.1" stroke="#555" stroke-width="0.6"/>
<text transform="translate(206,507) rotate(90)" x="0" y="2.5" font-size="7.2" fill="#333" text-anchor="middle" stroke="#333" stroke-width="0.22">T8b/7</text>
<text transform="translate(225,505) rotate(90)" x="0" y="2.5" font-size="7.2" fill="#333" text-anchor="middle" stroke="#333" stroke-width="0.22">T7/4</text>
<text transform="translate(242.3,505) rotate(90)" x="0" y="2.5" font-size="7.2" fill="#333" text-anchor="middle" stroke="#333" stroke-width="0.22">T8a/5</text>
<text x="218.7" y="541.2" font-size="7.2" fill="#333" stroke="#333" stroke-width="0.22">T8b/6</text>
<circle cx="211.6" cy="492.0" r="4.1" fill="#fff" stroke="#222" stroke-width="1"/>
<circle cx="229.7" cy="492.0" r="4.1" fill="#fff" stroke="#222" stroke-width="1"/>
<circle cx="247.4" cy="492.0" r="4.1" fill="#fff" stroke="#222" stroke-width="1"/>
<circle cx="211.6" cy="543.4" r="4.1" fill="#fff" stroke="#222" stroke-width="1"/>
<rect x="236.9" y="547.2" width="16.1" height="12.4" fill="#111"/>
<text x="246.1" y="556.8" font-size="9.4" font-weight="bold" fill="#fff" stroke="#fff" stroke-width="0.5" text-anchor="middle" letter-spacing="2.4">66</text>
<rect x="295.4" y="517.6" width="26.1" height="28.6" fill="#d3e1de" stroke="#303030" stroke-width="1.35"/>
<line x1="308.5" y1="521.0" x2="308.5" y2="527.0" stroke="#222" stroke-width="1.8" />
<line x1="308.5" y1="536.5" x2="308.5" y2="542.0" stroke="#222" stroke-width="1.8" />
<circle cx="308.5" cy="531.8" r="4.9" fill="#fff" stroke="#222" stroke-width="1"/>
<path d="M305.1,528.4L311.9,535.2M305.1,535.2L311.9,528.4" stroke="#222" stroke-width="0.9"/>
<path d="M301.1,524.4L305.1,528.4M311.9,528.4L315.9,524.4M301.1,539.1L305.1,535.2M311.9,535.2L315.9,539.1" stroke="#555" stroke-width="0.6"/>
<circle cx="308.5" cy="517.4" r="4.1" fill="#fff" stroke="#222" stroke-width="1"/>
<circle cx="308.5" cy="546.3" r="4.1" fill="#fff" stroke="#222" stroke-width="1"/>
<rect x="284.2" y="502.8" width="16.5" height="12.7" fill="#111"/>
<text x="293.6" y="512.5" font-size="9.4" font-weight="bold" fill="#fff" stroke="#fff" stroke-width="0.5" text-anchor="middle" letter-spacing="2.4">64</text>
<rect x="329.6" y="517.6" width="25.7" height="28.6" fill="#d3e1de" stroke="#303030" stroke-width="1.35"/>
<line x1="342.3" y1="521.0" x2="342.3" y2="527.0" stroke="#222" stroke-width="1.8" />
<line x1="342.3" y1="536.5" x2="342.3" y2="542.0" stroke="#222" stroke-width="1.8" />
<circle cx="342.3" cy="531.8" r="4.9" fill="#fff" stroke="#222" stroke-width="1"/>
<path d="M338.9,528.4L345.7,535.2M338.9,535.2L345.7,528.4" stroke="#222" stroke-width="0.9"/>
<path d="M334.9,524.4L338.9,528.4M345.7,528.4L349.7,524.4M334.9,539.1L338.9,535.2M345.7,535.2L349.7,539.1" stroke="#555" stroke-width="0.6"/>
<circle cx="342.3" cy="517.4" r="4.1" fill="#fff" stroke="#222" stroke-width="1"/>
<circle cx="342.3" cy="546.3" r="4.1" fill="#fff" stroke="#222" stroke-width="1"/>
<rect x="351.2" y="502.8" width="16.8" height="12.7" fill="#111"/>
<text x="360.8" y="512.5" font-size="9.4" font-weight="bold" fill="#fff" stroke="#fff" stroke-width="0.5" text-anchor="middle" letter-spacing="2.4">65</text>
<text transform="translate(308.5,572.7) rotate(90)" x="0" y="3.6" font-size="10.1" text-anchor="middle" fill="#111"  stroke="#111" stroke-width="0.22">br 1.0</text>
<text transform="translate(342.3,572.7) rotate(90)" x="0" y="3.6" font-size="10.1" text-anchor="middle" fill="#111"  stroke="#111" stroke-width="0.22">br 0.5</text>
<line x1="308.5" y1="597.8" x2="308.5" y2="607" stroke="#111" stroke-width="1.5"/>
<circle cx="308.5" cy="597.8" r="3.4" fill="#111"/>
<line x1="295.3" y1="607" x2="321.3" y2="607" stroke="#111" stroke-width="1.7"/>
<line x1="299.3" y1="611" x2="317.3" y2="611" stroke="#111" stroke-width="1.6"/>
<line x1="303.3" y1="614.8" x2="313.3" y2="614.8" stroke="#111" stroke-width="1.5"/>
<path d="M307.0,617.6 L309.6,617.6 L308.3,619.4Z" fill="#111"/>
<text x="308.3" y="639.6" font-size="10.2" text-anchor="middle" fill="#111"  stroke="#111" stroke-width="0.22">E17</text>
<line x1="342.3" y1="597.8" x2="342.3" y2="607" stroke="#111" stroke-width="1.5"/>
<circle cx="342.3" cy="597.8" r="3.4" fill="#111"/>
<line x1="329.8" y1="607" x2="355.8" y2="607" stroke="#111" stroke-width="1.7"/>
<line x1="333.8" y1="611" x2="351.8" y2="611" stroke="#111" stroke-width="1.6"/>
<line x1="337.8" y1="614.8" x2="347.8" y2="614.8" stroke="#111" stroke-width="1.5"/>
<path d="M341.5,617.6 L344.1,617.6 L342.8,619.4Z" fill="#111"/>
<text x="342.8" y="639.6" font-size="10.2" text-anchor="middle" fill="#111"  stroke="#111" stroke-width="0.22">E16</text>
<text x="563.0" y="55.3" font-size="10.1" text-anchor="middle" fill="#111"  stroke="#111" stroke-width="0.22">ro/ws 4.0</text>
<text x="448.0" y="107.2" font-size="10.1" text-anchor="middle" fill="#111"  stroke="#111" stroke-width="0.22">br 4.0</text>
<rect x="462.5" y="39.8" width="24.5" height="47.7" fill="#d3e1de" stroke="#303030" stroke-width="1.35"/>
<circle cx="474.8" cy="51.7" r="7" fill="#fff" stroke="#222" stroke-width="1"/>
<line x1="470.8" y1="51.7" x2="478.8" y2="51.7" stroke="#222" stroke-width="1.2"/>
<line x1="474.8" y1="47.7" x2="474.8" y2="55.7" stroke="#222" stroke-width="1.2"/>
<circle cx="474.8" cy="75.7" r="7" fill="#fff" stroke="#222" stroke-width="1"/>
<line x1="470.8" y1="75.7" x2="478.8" y2="75.7" stroke="#222" stroke-width="1.2"/>
<circle cx="474.8" cy="87.5" r="4.1" fill="#fff" stroke="#222" stroke-width="1"/>
<circle cx="487.0" cy="51.7" r="4.1" fill="#fff" stroke="#222" stroke-width="1"/>
<rect x="445.2" y="71.1" width="12.7" height="12.9" fill="#111"/>
<text x="451.5" y="81.0" font-size="9.4" font-weight="bold" fill="#fff" stroke="#fff" stroke-width="0.5" text-anchor="middle" letter-spacing="0">1</text>
<line x1="420.9" y1="103.6" x2="420.9" y2="112.6" stroke="#111" stroke-width="1.5"/>
<circle cx="420.9" cy="103.6" r="3.4" fill="#111"/>
<line x1="407.3" y1="112.6" x2="433.3" y2="112.6" stroke="#111" stroke-width="1.7"/>
<line x1="411.3" y1="116.6" x2="429.3" y2="116.6" stroke="#111" stroke-width="1.6"/>
<line x1="415.3" y1="120.39999999999999" x2="425.3" y2="120.39999999999999" stroke="#111" stroke-width="1.5"/>
<path d="M419.0,123.19999999999999 L421.6,123.19999999999999 L420.3,125.0Z" fill="#111"/>
<text x="420.3" y="136.1" font-size="10.2" text-anchor="middle" fill="#111"  stroke="#111" stroke-width="0.22">E16</text>
<line x1="474.8" y1="103.6" x2="474.8" y2="112.6" stroke="#111" stroke-width="1.5"/>
<circle cx="474.8" cy="103.6" r="3.4" fill="#111"/>
<line x1="461.6" y1="112.6" x2="487.6" y2="112.6" stroke="#111" stroke-width="1.7"/>
<line x1="465.6" y1="116.6" x2="483.6" y2="116.6" stroke="#111" stroke-width="1.6"/>
<line x1="469.6" y1="120.39999999999999" x2="479.6" y2="120.39999999999999" stroke="#111" stroke-width="1.5"/>
<path d="M473.3,123.19999999999999 L475.90000000000003,123.19999999999999 L474.6,125.0Z" fill="#111"/>
<text x="474.6" y="136.1" font-size="10.2" text-anchor="middle" fill="#111"  stroke="#111" stroke-width="0.22">E1</text>
<text x="560.0" y="115.6" font-size="10.1" text-anchor="middle" fill="#111"  stroke="#111" stroke-width="0.22">gr/gn 0.5</text>
<text x="560.0" y="146.4" font-size="10.1" text-anchor="middle" fill="#111"  stroke="#111" stroke-width="0.22">gr/gn 0.5</text>
<circle cx="508.2" cy="112.0" r="4.4" fill="#111"/>
<rect x="605.3" y="28.5" width="89.5" height="49.7" fill="#d3e1de" stroke="#303030" stroke-width="1.35"/>
<text x="650.0" y="35.8" font-size="7" font-weight="bold" fill="#222" text-anchor="middle" stroke="#222" stroke-width="0.22">FUSE/RELAY BOX</text>
<text x="619.6" y="47.0" font-size="6.8" fill="#333" text-anchor="middle" stroke="#333" stroke-width="0.22">T32/24</text>
<text x="678.6" y="47.0" font-size="6.8" fill="#333" text-anchor="middle" stroke="#333" stroke-width="0.22">T32/26</text>
<text x="619.8" y="66.4" font-size="6.8" fill="#333" text-anchor="middle" stroke="#333" stroke-width="0.22">T32/2</text>
<text x="678.7" y="66.4" font-size="6.8" fill="#333" text-anchor="middle" stroke="#333" stroke-width="0.22">T32/1</text>
<text x="649.5" y="66.4" font-size="8" fill="#333" text-anchor="middle" stroke="#333" stroke-width="0.22">F1</text>
<line x1="605.3" y1="51.5" x2="694.8" y2="51.5" stroke="#333" stroke-width="2.6" />
<line x1="605.3" y1="51.5" x2="694.8" y2="51.5" stroke="#f6f8f8" stroke-width="1.0" />
<line x1="605.3" y1="70.5" x2="635.3" y2="70.5" stroke="#444" stroke-width="1.6" />
<line x1="663.1" y1="70.5" x2="694.8" y2="70.5" stroke="#444" stroke-width="1.6" />
<line x1="605.3" y1="72.8" x2="694.8" y2="72.8" stroke="#f3f5f5" stroke-width="1.2" />
<path d="M641.9,67.9 L656.5,73.1 M641.9,73.1 L656.5,67.9" stroke="#222" stroke-width="1" fill="none"/>
<circle cx="638.9" cy="70.5" r="3.6" fill="#fff" stroke="#222" stroke-width="1"/>
<circle cx="659.5" cy="70.5" r="3.6" fill="#fff" stroke="#222" stroke-width="1"/>
<circle cx="605.0" cy="51.7" r="4.1" fill="#fff" stroke="#222" stroke-width="1"/>
<circle cx="605.0" cy="70.5" r="4.1" fill="#fff" stroke="#222" stroke-width="1"/>
<circle cx="694.0" cy="51.7" r="4.1" fill="#fff" stroke="#222" stroke-width="1"/>
<circle cx="694.0" cy="70.3" r="4.1" fill="#fff" stroke="#222" stroke-width="1"/>
<text x="652.3" y="115.6" font-size="10.1" text-anchor="middle" fill="#111"  stroke="#111" stroke-width="0.22">br 0.5</text>
<text x="652.3" y="146.4" font-size="10.1" text-anchor="middle" fill="#111"  stroke="#111" stroke-width="0.22">br 0.5</text>
<line x1="696.5" y1="142.8" x2="696.5" y2="152" stroke="#111" stroke-width="1.5"/>
<circle cx="696.5" cy="142.8" r="3.4" fill="#111"/>
<line x1="683.3" y1="152" x2="709.3" y2="152" stroke="#111" stroke-width="1.7"/>
<line x1="687.3" y1="156" x2="705.3" y2="156" stroke="#111" stroke-width="1.6"/>
<line x1="691.3" y1="159.8" x2="701.3" y2="159.8" stroke="#111" stroke-width="1.5"/>
<path d="M695.0,162.6 L697.5999999999999,162.6 L696.3,164.4Z" fill="#111"/>
<text x="696.3" y="175.6" font-size="10.2" text-anchor="middle" fill="#111"  stroke="#111" stroke-width="0.22">E13</text>
<rect x="597.5" y="99.2" width="27.9" height="26.1" fill="#d3e1de" stroke="#303030" stroke-width="1.35"/>
<line x1="597.5" y1="112.0" x2="607.0" y2="112.0" stroke="#222" stroke-width="1.3" />
<line x1="615.0" y1="112.0" x2="625.4" y2="112.0" stroke="#222" stroke-width="2.2" />
<circle cx="611" cy="112" r="4.7" fill="#fff" stroke="#222" stroke-width="1.1"/>
<path d="M607.8,108.8 L614.2,115.2 M607.8,115.2 L614.2,108.8" stroke="#222" stroke-width="1.1"/>
<circle cx="597.5" cy="112.0" r="4.1" fill="#fff" stroke="#222" stroke-width="1"/>
<circle cx="625.4" cy="112.0" r="4.1" fill="#fff" stroke="#222" stroke-width="1"/>
<rect x="597.5" y="130.4" width="27.9" height="26.6" fill="#d3e1de" stroke="#303030" stroke-width="1.35"/>
<line x1="597.5" y1="142.8" x2="607.0" y2="142.8" stroke="#222" stroke-width="1.3" />
<line x1="615.0" y1="142.8" x2="625.4" y2="142.8" stroke="#222" stroke-width="2.2" />
<circle cx="611" cy="142.8" r="4.7" fill="#fff" stroke="#222" stroke-width="1.1"/>
<path d="M607.8,139.60000000000002 L614.2,146.0 M607.8,146.0 L614.2,139.60000000000002" stroke="#222" stroke-width="1.1"/>
<circle cx="597.5" cy="142.8" r="4.1" fill="#fff" stroke="#222" stroke-width="1"/>
<circle cx="625.4" cy="142.8" r="4.1" fill="#fff" stroke="#222" stroke-width="1"/>
<rect x="579.1" y="121.1" width="16.7" height="11.7" fill="#111"/>
<text x="588.7" y="130.3" font-size="9.4" font-weight="bold" fill="#fff" stroke="#fff" stroke-width="0.5" text-anchor="middle" letter-spacing="2.4">67</text>
<text x="724.4" y="55.3" font-size="10.1" text-anchor="middle" fill="#111"  stroke="#111" stroke-width="0.22">ro 1.5</text>
<text x="724.2" y="73.9" font-size="10.1" text-anchor="middle" fill="#111"  stroke="#111" stroke-width="0.22">gn 1.0</text>
<rect x="765.6" y="77.6" width="28.2" height="49.8" fill="#d3e1de" stroke="#303030" stroke-width="1.35"/>
<text x="780.3" y="85.8" font-size="6.8" fill="#333" stroke="#333" stroke-width="0.22">30</text>
<text x="770.8" y="124.8" font-size="6.8" fill="#333" stroke="#333" stroke-width="0.22">58</text>
<path d="M776.0,81.0 L776.0,97.6" fill="none" stroke="#333" stroke-width="2.4" />
<path d="M776.0,81.0 L776.0,97.6" fill="none" stroke="#fff" stroke-width="0.9" />
<path d="M777.4,88.4 L782.0,88.4 L782.0,95.3" fill="none" stroke="#333" stroke-width="2.2" />
<path d="M777.4,88.4 L782.0,88.4 L782.0,95.3" fill="none" stroke="#fff" stroke-width="0.8" />
<path d="M776,101.5 L781,113 M782,99 L782,113" stroke="#333" stroke-width="0.8" stroke-dasharray="1 1.3" fill="none"/>
<line x1="782.2" y1="114" x2="787.4" y2="99.6" stroke="#111" stroke-width="2.2"/>
<circle cx="776" cy="99.6" r="1.9" fill="#fff" stroke="#222" stroke-width="0.9"/>
<circle cx="782" cy="97.2" r="1.9" fill="#fff" stroke="#222" stroke-width="0.9"/>
<circle cx="782" cy="115.1" r="1.9" fill="#fff" stroke="#222" stroke-width="0.9"/>
<line x1="782.0" y1="117.0" x2="782.0" y2="123.5" stroke="#222" stroke-width="1.0" />
<circle cx="776.0" cy="77.6" r="4.1" fill="#fff" stroke="#222" stroke-width="1"/>
<circle cx="782.0" cy="127.4" r="4.1" fill="#fff" stroke="#222" stroke-width="1"/>
<rect x="797.2" y="77.3" width="16.5" height="12.4" fill="#111"/>
<text x="806.7" y="86.9" font-size="9.4" font-weight="bold" fill="#fff" stroke="#fff" stroke-width="0.5" text-anchor="middle" letter-spacing="2.4">45</text>
<text x="543.0" y="231.6" font-size="10.1" text-anchor="middle" fill="#111"  stroke="#111" stroke-width="0.22">ro 2.5</text>
<text x="473.5" y="305.4" font-size="10.1" text-anchor="middle" fill="#111"  stroke="#111" stroke-width="0.22">br 4.0</text>
<rect x="488.3" y="238.6" width="24.3" height="47.3" fill="#d3e1de" stroke="#303030" stroke-width="1.35"/>
<circle cx="500.6" cy="250.3" r="7" fill="#fff" stroke="#222" stroke-width="1"/>
<line x1="496.6" y1="250.3" x2="504.6" y2="250.3" stroke="#222" stroke-width="1.2"/>
<line x1="500.6" y1="246.3" x2="500.6" y2="254.3" stroke="#222" stroke-width="1.2"/>
<circle cx="500.6" cy="274.2" r="7" fill="#fff" stroke="#222" stroke-width="1"/>
<line x1="496.6" y1="274.2" x2="504.6" y2="274.2" stroke="#222" stroke-width="1.2"/>
<circle cx="500.6" cy="238.6" r="4.1" fill="#fff" stroke="#222" stroke-width="1"/>
<circle cx="500.6" cy="285.9" r="4.1" fill="#fff" stroke="#222" stroke-width="1"/>
<rect x="471.2" y="270.0" width="12.7" height="12.3" fill="#111"/>
<text x="477.5" y="279.5" font-size="9.4" font-weight="bold" fill="#fff" stroke="#fff" stroke-width="0.5" text-anchor="middle" letter-spacing="0">1</text>
<line x1="446.5" y1="301.8" x2="446.5" y2="310.8" stroke="#111" stroke-width="1.5"/>
<circle cx="446.5" cy="301.8" r="3.4" fill="#111"/>
<line x1="433.5" y1="310.8" x2="459.5" y2="310.8" stroke="#111" stroke-width="1.7"/>
<line x1="437.5" y1="314.8" x2="455.5" y2="314.8" stroke="#111" stroke-width="1.6"/>
<line x1="441.5" y1="318.6" x2="451.5" y2="318.6" stroke="#111" stroke-width="1.5"/>
<path d="M445.2,321.40000000000003 L447.8,321.40000000000003 L446.5,323.2Z" fill="#111"/>
<text x="446.5" y="334.2" font-size="10.2" text-anchor="middle" fill="#111"  stroke="#111" stroke-width="0.22">E16</text>
<line x1="500.6" y1="301.8" x2="500.6" y2="310.8" stroke="#111" stroke-width="1.5"/>
<circle cx="500.6" cy="301.8" r="3.4" fill="#111"/>
<line x1="487.6" y1="310.8" x2="513.6" y2="310.8" stroke="#111" stroke-width="1.7"/>
<line x1="491.6" y1="314.8" x2="509.6" y2="314.8" stroke="#111" stroke-width="1.6"/>
<line x1="495.6" y1="318.6" x2="505.6" y2="318.6" stroke="#111" stroke-width="1.5"/>
<path d="M499.3,321.40000000000003 L501.90000000000003,321.40000000000003 L500.6,323.2Z" fill="#111"/>
<text x="500.6" y="334.2" font-size="10.2" text-anchor="middle" fill="#111"  stroke="#111" stroke-width="0.22">E1</text>
<text x="619.0" y="318.7" font-size="10.1" text-anchor="middle" fill="#111"  stroke="#111" stroke-width="0.22">sw/ge 2.5</text>
<rect x="563.4" y="246.0" width="135.4" height="50.0" fill="#d3e1de" stroke="#303030" stroke-width="1.35"/>
<rect x="577.2" y="251.9" width="109.5" height="3.7" fill="#eef2f1" stroke="#8a9492" stroke-width="0.8"/>
<rect x="575.8" y="249.0" width="2.8" height="9.5" fill="#eef2f1" stroke="#8a9492" stroke-width="0.7"/>
<rect x="603.9" y="255.6" width="2.2" height="2.8" fill="#eef2f1" stroke="#8a9492" stroke-width="0.6"/>
<rect x="631.8" y="255.6" width="2.2" height="2.8" fill="#eef2f1" stroke="#8a9492" stroke-width="0.6"/>
<rect x="659.8" y="255.6" width="2.2" height="2.8" fill="#eef2f1" stroke="#8a9492" stroke-width="0.6"/>
<rect x="685.6" y="255.6" width="2.2" height="2.8" fill="#eef2f1" stroke="#8a9492" stroke-width="0.6"/>
<line x1="580.4" y1="269.7" x2="687.4" y2="269.7" stroke="#222" stroke-width="1.2" stroke-dasharray="3 2.4"/>
<path d="M577.2,261.0 L583.2,274.0 M577.2,261.0 L577.5,276.0" stroke="#333" stroke-width="0.7" stroke-dasharray="1 1.2" fill="none"/>
<line x1="577.2" y1="260.6" x2="571.5" y2="275.0" stroke="#111" stroke-width="2.5"/>
<circle cx="571.0" cy="275.7" r="2.2" fill="#fff" stroke="#222" stroke-width="0.9"/>
<circle cx="577.5" cy="277.7" r="2.2" fill="#fff" stroke="#222" stroke-width="0.9"/>
<circle cx="583.2" cy="275.7" r="2.2" fill="#fff" stroke="#222" stroke-width="0.9"/>
<circle cx="577.2" cy="259.8" r="2.2" fill="#fff" stroke="#222" stroke-width="0.9"/>
<path d="M605.0,261.0 L611.0,274.0 M605.0,261.0 L605.3,276.0" stroke="#333" stroke-width="0.7" stroke-dasharray="1 1.2" fill="none"/>
<line x1="605.0" y1="260.6" x2="599.3" y2="275.0" stroke="#111" stroke-width="2.5"/>
<circle cx="598.8" cy="275.7" r="2.2" fill="#fff" stroke="#222" stroke-width="0.9"/>
<circle cx="605.3" cy="277.7" r="2.2" fill="#fff" stroke="#222" stroke-width="0.9"/>
<circle cx="611.0" cy="275.7" r="2.2" fill="#fff" stroke="#222" stroke-width="0.9"/>
<circle cx="605.0" cy="259.8" r="2.2" fill="#fff" stroke="#222" stroke-width="0.9"/>
<path d="M632.9,261.0 L638.9,274.0 M632.9,261.0 L633.2,276.0" stroke="#333" stroke-width="0.7" stroke-dasharray="1 1.2" fill="none"/>
<line x1="632.9" y1="260.6" x2="627.2" y2="275.0" stroke="#111" stroke-width="2.5"/>
<circle cx="626.7" cy="275.7" r="2.2" fill="#fff" stroke="#222" stroke-width="0.9"/>
<circle cx="633.2" cy="277.7" r="2.2" fill="#fff" stroke="#222" stroke-width="0.9"/>
<circle cx="638.9" cy="275.7" r="2.2" fill="#fff" stroke="#222" stroke-width="0.9"/>
<circle cx="632.9" cy="259.8" r="2.2" fill="#fff" stroke="#222" stroke-width="0.9"/>
<path d="M660.9,261.0 L666.9,274.0 M660.9,261.0 L661.2,276.0" stroke="#333" stroke-width="0.7" stroke-dasharray="1 1.2" fill="none"/>
<line x1="660.9" y1="260.6" x2="655.2" y2="275.0" stroke="#111" stroke-width="2.5"/>
<circle cx="654.7" cy="275.7" r="2.2" fill="#fff" stroke="#222" stroke-width="0.9"/>
<circle cx="661.2" cy="277.7" r="2.2" fill="#fff" stroke="#222" stroke-width="0.9"/>
<circle cx="666.9" cy="275.7" r="2.2" fill="#fff" stroke="#222" stroke-width="0.9"/>
<circle cx="660.9" cy="259.8" r="2.2" fill="#fff" stroke="#222" stroke-width="0.9"/>
<path d="M686.7,261.0 L692.7,274.0 M686.7,261.0 L687.0,276.0" stroke="#333" stroke-width="0.7" stroke-dasharray="1 1.2" fill="none"/>
<line x1="686.7" y1="260.6" x2="681.0" y2="275.0" stroke="#111" stroke-width="2.5"/>
<circle cx="680.5" cy="275.7" r="2.2" fill="#fff" stroke="#222" stroke-width="0.9"/>
<circle cx="687.0" cy="277.7" r="2.2" fill="#fff" stroke="#222" stroke-width="0.9"/>
<circle cx="692.7" cy="275.7" r="2.2" fill="#fff" stroke="#222" stroke-width="0.9"/>
<circle cx="686.7" cy="259.8" r="2.2" fill="#fff" stroke="#222" stroke-width="0.9"/>
<line x1="577.5" y1="279.9" x2="577.5" y2="292.0" stroke="#222" stroke-width="1" />
<path d="M611.2,277.9 L611.2,285.3 L605.5,285.3 L605.5,292.0" fill="none" stroke="#222" stroke-width="1" />
<line x1="626.7" y1="277.9" x2="626.7" y2="292.0" stroke="#222" stroke-width="1" />
<path d="M661.2,279.9 L661.2,292.0" fill="none" stroke="#222" stroke-width="1" />
<path d="M666.9,277.9 L666.9,284.5 L661.2,284.5" fill="none" stroke="#222" stroke-width="1" />
<circle cx="661.2" cy="284.5" r="1.9" fill="#111"/>
<line x1="687.0" y1="279.9" x2="687.0" y2="292.0" stroke="#222" stroke-width="1" />
<text x="665.7" y="270.2" font-size="8.6" font-weight="bold" fill="#222" stroke="#222" stroke-width="0.22">JL</text>
<text x="569.4" y="263.6" font-size="6.8" fill="#333" text-anchor="middle" stroke="#333" stroke-width="0.22">30</text>
<text x="569.6" y="291.1" font-size="6.8" fill="#333" text-anchor="middle" stroke="#333" stroke-width="0.22">X</text>
<text x="597.5" y="291.1" font-size="6.8" fill="#333" text-anchor="middle" stroke="#333" stroke-width="0.22">50</text>
<text x="618.9" y="291.1" font-size="6.8" fill="#333" text-anchor="middle" stroke="#333" stroke-width="0.22">P</text>
<text x="652.8" y="291.1" font-size="6.8" fill="#333" text-anchor="middle" stroke="#333" stroke-width="0.22">15</text>
<text x="680.6" y="291.1" font-size="6.8" fill="#333" text-anchor="middle" stroke="#333" stroke-width="0.22">S</text>
<circle cx="577.2" cy="246.0" r="4.1" fill="#fff" stroke="#222" stroke-width="1"/>
<circle cx="577.2" cy="296.0" r="4.1" fill="#fff" stroke="#222" stroke-width="1"/>
<circle cx="605.5" cy="296.0" r="4.1" fill="#fff" stroke="#222" stroke-width="1"/>
<circle cx="626.7" cy="296.0" r="4.1" fill="#fff" stroke="#222" stroke-width="1"/>
<circle cx="661.1" cy="296.0" r="4.1" fill="#fff" stroke="#222" stroke-width="1"/>
<circle cx="686.7" cy="296.0" r="4.1" fill="#fff" stroke="#222" stroke-width="1"/>
<text transform="translate(795.8,326.0) rotate(90)" x="0" y="3.6" font-size="10.1" text-anchor="middle" fill="#111"  stroke="#111" stroke-width="0.22">gr/ge 1.0</text>
<rect x="775.8" y="240.6" width="31.9" height="49.7" fill="#d3e1de" stroke="#303030" stroke-width="1.35"/>
<text x="779.2" y="248.6" font-size="7.2" fill="#333" stroke="#333" stroke-width="0.22">X</text>
<text x="777.5" y="288" font-size="7.4" fill="#333" stroke="#333" stroke-width="0.22">NSL</text>
<line x1="789.4" y1="244.0" x2="789.4" y2="260.0" stroke="#222" stroke-width="1.0" />
<path d="M789.4,264 L794.5,276 M795.4,262 L795.4,276" stroke="#333" stroke-width="0.8" stroke-dasharray="1 1.3" fill="none"/>
<line x1="795.2" y1="276.3" x2="800.5" y2="262" stroke="#111" stroke-width="2.2"/>
<circle cx="789.4" cy="262.1" r="2" fill="#fff" stroke="#222" stroke-width="0.9"/>
<circle cx="795.4" cy="260" r="2" fill="#fff" stroke="#222" stroke-width="0.9"/>
<circle cx="795.4" cy="277.8" r="2" fill="#fff" stroke="#222" stroke-width="0.9"/>
<line x1="795.6" y1="279.8" x2="795.6" y2="287.0" stroke="#222" stroke-width="1.0" />
<circle cx="789.4" cy="240.6" r="4.1" fill="#fff" stroke="#222" stroke-width="1"/>
<circle cx="795.8" cy="290.5" r="4.1" fill="#fff" stroke="#222" stroke-width="1"/>
<rect x="755.2" y="240.0" width="16.8" height="12.7" fill="#111"/>
<text x="764.8" y="249.8" font-size="9.4" font-weight="bold" fill="#fff" stroke="#fff" stroke-width="0.5" text-anchor="middle" letter-spacing="2.4">45</text>
<text x="617.4" y="365.2" font-size="10.1" text-anchor="middle" fill="#111"  stroke="#111" stroke-width="0.22">gr/ge 1.0</text>
<rect x="659.5" y="335.4" width="87.0" height="33.8" fill="#d3e1de" stroke="#303030" stroke-width="1.35"/>
<text x="703.0" y="345.1" font-size="7" font-weight="bold" fill="#222" text-anchor="middle" stroke="#222" stroke-width="0.22">FUSE/RELAY BOX</text>
<text x="672.8" y="357.4" font-size="6.8" fill="#333" text-anchor="middle" stroke="#333" stroke-width="0.22">T32/24</text>
<text x="733.0" y="357.4" font-size="6.8" fill="#333" text-anchor="middle" stroke="#333" stroke-width="0.22">T32/25</text>
<text x="703.4" y="357.6" font-size="8" fill="#333" text-anchor="middle" stroke="#333" stroke-width="0.22">F12</text>
<line x1="659.5" y1="361.4" x2="746.5" y2="361.4" stroke="#333" stroke-width="2.6" />
<line x1="659.5" y1="361.4" x2="746.5" y2="361.4" stroke="#f6f8f8" stroke-width="1.0" />
<path d="M696.0,358.8 L709.6,364.0 M696.0,364.0 L709.6,358.8" stroke="#222" stroke-width="1" fill="none"/>
<circle cx="693.0" cy="361.4" r="3.6" fill="#fff" stroke="#222" stroke-width="1"/>
<circle cx="712.6" cy="361.4" r="3.6" fill="#fff" stroke="#222" stroke-width="1"/>
<circle cx="659.7" cy="361.6" r="4.1" fill="#fff" stroke="#222" stroke-width="1"/>
<circle cx="746.2" cy="361.6" r="4.1" fill="#fff" stroke="#222" stroke-width="1"/>
<text x="678.8" y="412.3" font-size="10.1" text-anchor="middle" fill="#111"  stroke="#111" stroke-width="0.22">gr/bl 0.5</text>
<path d="M735.6,408.9 L752.4,395.3 L752.4,400.5 L774.2,400.5 L774.2,416.4 L752.4,416.4 L752.4,422 Z" fill="#111"/>
<text x="757.1" y="412.6" font-size="10.6" font-weight="bold" fill="#fff" text-anchor="middle" letter-spacing="0.2" stroke="#fff" stroke-width="0.22">8/L4</text>
<text x="781.2" y="413" font-size="9.5" font-weight="bold" fill="#111" stroke="#111" stroke-width="0.22">Illumination</text>
<text x="679.6" y="495.2" font-size="10.1" text-anchor="middle" fill="#111"  stroke="#111" stroke-width="0.22">br 0.5</text>
<line x1="738.6" y1="491.6" x2="738.6" y2="500.6" stroke="#111" stroke-width="1.5"/>
<circle cx="738.6" cy="491.6" r="3.4" fill="#111"/>
<line x1="725.6" y1="500.6" x2="751.6" y2="500.6" stroke="#111" stroke-width="1.7"/>
<line x1="729.6" y1="504.6" x2="747.6" y2="504.6" stroke="#111" stroke-width="1.6"/>
<line x1="733.6" y1="508.40000000000003" x2="743.6" y2="508.40000000000003" stroke="#111" stroke-width="1.5"/>
<path d="M737.3000000000001,511.20000000000005 L739.9,511.20000000000005 L738.6,513.0Z" fill="#111"/>
<text x="738.6" y="524.8" font-size="10.2" text-anchor="middle" fill="#111"  stroke="#111" stroke-width="0.22">E9</text>
<text transform="translate(574.4,525.0) rotate(90)" x="0" y="3.6" font-size="10.1" text-anchor="middle" fill="#111"  stroke="#111" stroke-width="0.22">ws/ge 0.5</text>
<circle cx="574.6" cy="577.2" r="4.1" fill="#fff" stroke="#222" stroke-width="1"/>
<text x="575.6" y="590.5" font-size="10" font-weight="bold" fill="#111" text-anchor="middle" stroke="#111" stroke-width="0.22">Not</text>
<text x="575.6" y="600" font-size="10" font-weight="bold" fill="#111" text-anchor="middle" stroke="#111" stroke-width="0.22">used</text>
<text transform="translate(601.8,525.0) rotate(90)" x="0" y="3.6" font-size="10.1" text-anchor="middle" fill="#111"  stroke="#111" stroke-width="0.22">gr/ws 0.5</text>
<rect x="562.4" y="423.8" width="81.8" height="51.6" fill="#d3e1de" stroke="#303030" stroke-width="1.35"/>
<rect x="603.8" y="426.0" width="16.5" height="11.7" fill="#111"/>
<text x="613.2" y="435.2" font-size="9.4" font-weight="bold" fill="#fff" stroke="#fff" stroke-width="0.5" text-anchor="middle" letter-spacing="2.4">68</text>
<line x1="574.4" y1="427.8" x2="574.4" y2="440.0" stroke="#222" stroke-width="1" />
<path d="M574.4,433.0 L596.5,433.0 L596.5,440.0" fill="none" stroke="#222" stroke-width="1" />
<circle cx="574.4" cy="433.0" r="2" fill="#111"/>
<path d="M574.4,443.6 L574.4,458.59999999999997 M574.4,443.6 L580.6,455.9" stroke="#333" stroke-width="0.7" stroke-dasharray="1 1.2" fill="none"/>
<line x1="574.1" y1="443.5" x2="568.8" y2="457.7" stroke="#111" stroke-width="1.9"/>
<circle cx="574.4" cy="441.8" r="1.9" fill="#fff" stroke="#222" stroke-width="0.9"/>
<circle cx="574.4" cy="460.4" r="1.9" fill="#fff" stroke="#222" stroke-width="0.9"/>
<circle cx="580.6" cy="457.7" r="1.9" fill="#fff" stroke="#222" stroke-width="0.9"/>
<path d="M596.5,443.6 L596,457.7 M596.5,443.6 L601.8,455.5" stroke="#333" stroke-width="0.7" stroke-dasharray="1 1.2" fill="none"/>
<line x1="596.2" y1="443.5" x2="590.3" y2="457.3" stroke="#111" stroke-width="1.9"/>
<circle cx="596.5" cy="441.8" r="1.9" fill="#fff" stroke="#222" stroke-width="0.9"/>
<circle cx="596.0" cy="459.5" r="1.9" fill="#fff" stroke="#222" stroke-width="0.9"/>
<circle cx="601.8" cy="457.3" r="1.9" fill="#fff" stroke="#222" stroke-width="0.9"/>
<line x1="578.5" y1="451.9" x2="588.6" y2="451.9" stroke="#222" stroke-width="1" stroke-dasharray="2.5 2"/>
<path d="M574.4,462.3 L574.4,471.5" fill="none" stroke="#222" stroke-width="1" />
<path d="M580.6,459.4 L580.6,463.5 L574.4,463.5" fill="none" stroke="#222" stroke-width="1" />
<circle cx="574.4" cy="465.7" r="2" fill="#111"/>
<path d="M601.8,459.2 L601.8,471.5" fill="none" stroke="#222" stroke-width="1" />
<circle cx="601.8" cy="465.7" r="2" fill="#111"/>
<path d="M601.8,465.7 L609.8,465.7 L609.8,443.6 L617.7,443.6 L617.7,448.0" fill="none" stroke="#222" stroke-width="1" />
<path d="M617.7,457.0 L617.7,471.0" fill="none" stroke="#222" stroke-width="2.2" />
<path d="M617.7,466.5 L635.4,466.5 L635.4,457.0" fill="none" stroke="#222" stroke-width="2.2" />
<circle cx="617.7" cy="466.5" r="2.2" fill="#111"/>
<line x1="635.4" y1="428.0" x2="635.4" y2="448.0" stroke="#222" stroke-width="1" />
<circle cx="617.7" cy="452.4" r="4.6" fill="#fff" stroke="#222" stroke-width="1"/>
<path d="M614.6,449.3L620.8,455.5M614.6,455.5L620.8,449.3" stroke="#222" stroke-width="0.9"/>
<circle cx="635.4" cy="452.4" r="4.6" fill="#fff" stroke="#222" stroke-width="1"/>
<path d="M632.3,449.3L638.5,455.5M632.3,455.5L638.5,449.3" stroke="#222" stroke-width="0.9"/>
<text x="566" y="430.5" font-size="7" fill="#333" stroke="#333" stroke-width="0.22">5</text>
<text x="627" y="430.5" font-size="7" fill="#333" stroke="#333" stroke-width="0.22">2</text>
<text x="566" y="473" font-size="7" fill="#333" stroke="#333" stroke-width="0.22">3</text>
<text x="594" y="473" font-size="7" fill="#333" stroke="#333" stroke-width="0.22">4</text>
<text x="610" y="473" font-size="7" fill="#333" stroke="#333" stroke-width="0.22">1</text>
<circle cx="574.4" cy="423.8" r="4.1" fill="#fff" stroke="#222" stroke-width="1"/>
<circle cx="635.6" cy="423.8" r="4.1" fill="#fff" stroke="#222" stroke-width="1"/>
<circle cx="574.4" cy="475.4" r="4.1" fill="#fff" stroke="#222" stroke-width="1"/>
<circle cx="601.8" cy="475.4" r="4.1" fill="#fff" stroke="#222" stroke-width="1"/>
<circle cx="617.7" cy="475.4" r="4.1" fill="#fff" stroke="#222" stroke-width="1"/>
<text x="744.0" y="572.0" font-size="10.1" text-anchor="middle" fill="#111"  stroke="#111" stroke-width="0.22">br 1.5</text>
<line x1="777.2" y1="568.6" x2="777.2" y2="577.7" stroke="#111" stroke-width="1.5"/>
<circle cx="777.2" cy="568.6" r="3.4" fill="#111"/>
<line x1="764.2" y1="577.5" x2="790.2" y2="577.5" stroke="#111" stroke-width="1.7"/>
<line x1="768.2" y1="581.5" x2="786.2" y2="581.5" stroke="#111" stroke-width="1.6"/>
<line x1="772.2" y1="585.3" x2="782.2" y2="585.3" stroke="#111" stroke-width="1.5"/>
<path d="M775.9000000000001,588.1 L778.5,588.1 L777.2,589.9Z" fill="#111"/>
<text x="777.2" y="601.4" font-size="10.2" text-anchor="middle" fill="#111"  stroke="#111" stroke-width="0.22">E8</text>
<rect x="663.2" y="554.8" width="50.7" height="23.9" fill="#d3e1de" stroke="#303030" stroke-width="1.35"/>
<line x1="663.2" y1="568.4" x2="684.0" y2="568.4" stroke="#222" stroke-width="1.3" />
<line x1="693.0" y1="568.4" x2="713.5" y2="568.4" stroke="#222" stroke-width="2.4" />
<circle cx="688.4" cy="568.2" r="4.6" fill="#fff" stroke="#222" stroke-width="1"/>
<path d="M685.3,565.1L691.5,571.3M685.3,571.3L691.5,565.1" stroke="#222" stroke-width="0.9"/>
<text x="665.7" y="564.8" font-size="7.2" fill="#333" stroke="#333" stroke-width="0.22">T8a/8</text>
<text x="694" y="564.8" font-size="7.2" fill="#333" stroke="#333" stroke-width="0.22">T8a/6</text>
<circle cx="663.2" cy="568.4" r="4.3" fill="#fff" stroke="#222" stroke-width="1"/>
<circle cx="713.5" cy="568.4" r="4.3" fill="#fff" stroke="#222" stroke-width="1"/>
<rect x="696.9" y="538.3" width="17.1" height="12.5" fill="#111"/>
<text x="706.7" y="547.9" font-size="9.4" font-weight="bold" fill="#fff" stroke="#fff" stroke-width="0.5" text-anchor="middle" letter-spacing="2.4">69</text>
<text x="24" y="667.3" font-size="14" font-weight="bold" fill="#fff" text-anchor="middle" stroke="#fff" stroke-width="0.22">A</text>
<text x="106.9" y="667.3" font-size="14" font-weight="bold" fill="#fff" text-anchor="middle" stroke="#fff" stroke-width="0.22">B</text>
<text x="186" y="667.3" font-size="14" font-weight="bold" fill="#fff" text-anchor="middle" stroke="#fff" stroke-width="0.22">C</text>
<text x="265.3" y="667.3" font-size="14" font-weight="bold" fill="#fff" text-anchor="middle" stroke="#fff" stroke-width="0.22">D</text>
<text x="343.5" y="667.3" font-size="14" font-weight="bold" fill="#fff" text-anchor="middle" stroke="#fff" stroke-width="0.22">E</text>
<text x="422.7" y="667.3" font-size="14" font-weight="bold" fill="#fff" text-anchor="middle" stroke="#fff" stroke-width="0.22">F</text>
<text x="504.4" y="667.3" font-size="14" font-weight="bold" fill="#fff" text-anchor="middle" stroke="#fff" stroke-width="0.22">G</text>
<text x="582.4" y="667.3" font-size="14" font-weight="bold" fill="#fff" text-anchor="middle" stroke="#fff" stroke-width="0.22">H</text>
<text x="661" y="667.3" font-size="14" font-weight="bold" fill="#fff" text-anchor="middle" stroke="#fff" stroke-width="0.22">J</text>
<text x="742.8" y="667.3" font-size="14" font-weight="bold" fill="#fff" text-anchor="middle" stroke="#fff" stroke-width="0.22">K</text>
<text x="819.7" y="667.3" font-size="14" font-weight="bold" fill="#fff" text-anchor="middle" stroke="#fff" stroke-width="0.22">L</text>
<text x="425.8" y="686.8" font-size="11" font-weight="bold" fill="#111" text-anchor="middle" stroke="#111" stroke-width="0.22">Diagram 7 : Exterior lighting (continued)</text>
<text x="358" y="17.8" font-size="9.5" font-weight="bold" font-style="italic" fill="#111" text-anchor="middle" stroke="#111" stroke-width="0.22">Wire colours</text>
<text x="310.4" y="31.7" font-size="9.6" font-weight="bold" fill="#111" stroke="#111" stroke-width="0.22">ws</text>
<text x="326.6" y="31.7" font-size="9.6" fill="#222" stroke="#222" stroke-width="0.22">White</text>
<text x="362.4" y="31.7" font-size="9.6" font-weight="bold" fill="#111" stroke="#111" stroke-width="0.22">sw</text>
<text x="378" y="31.7" font-size="9.6" fill="#222" stroke="#222" stroke-width="0.22">Black</text>
<text x="310.4" y="42.9" font-size="9.6" font-weight="bold" fill="#111" stroke="#111" stroke-width="0.22">ro</text>
<text x="326.6" y="42.9" font-size="9.6" fill="#222" stroke="#222" stroke-width="0.22">Red</text>
<text x="362.4" y="42.9" font-size="9.6" font-weight="bold" fill="#111" stroke="#111" stroke-width="0.22">br</text>
<text x="378" y="42.9" font-size="9.6" fill="#222" stroke="#222" stroke-width="0.22">Brown</text>
<text x="310.4" y="54.1" font-size="9.6" font-weight="bold" fill="#111" stroke="#111" stroke-width="0.22">gn</text>
<text x="326.6" y="54.1" font-size="9.6" fill="#222" stroke="#222" stroke-width="0.22">Green</text>
<text x="362.4" y="54.1" font-size="9.6" font-weight="bold" fill="#111" stroke="#111" stroke-width="0.22">bl</text>
<text x="378" y="54.1" font-size="9.6" fill="#222" stroke="#222" stroke-width="0.22">Blue</text>
<text x="310.4" y="65.3" font-size="9.6" font-weight="bold" fill="#111" stroke="#111" stroke-width="0.22">gr</text>
<text x="326.6" y="65.3" font-size="9.6" fill="#222" stroke="#222" stroke-width="0.22">Grey</text>
<text x="362.4" y="65.3" font-size="9.6" font-weight="bold" fill="#111" stroke="#111" stroke-width="0.22">li</text>
<text x="378" y="65.3" font-size="9.6" fill="#222" stroke="#222" stroke-width="0.22">Lilac</text>
<text x="310.4" y="76.5" font-size="9.6" font-weight="bold" fill="#111" stroke="#111" stroke-width="0.22">ge</text>
<text x="326.6" y="76.5" font-size="9.6" fill="#222" stroke="#222" stroke-width="0.22">Yellow</text>
<text x="362.4" y="76.5" font-size="9.6" font-weight="bold" fill="#111" stroke="#111" stroke-width="0.22">tr</text>
<text x="378" y="76.5" font-size="9.6" fill="#222" stroke="#222" stroke-width="0.22">Clear</text>
<text x="739" y="15.8" font-size="9.8" font-weight="bold" font-style="italic" fill="#111" stroke="#111" stroke-width="0.22">Number plate lights</text>
<text x="396.7" y="214" font-size="9.8" font-weight="bold" font-style="italic" fill="#111" stroke="#111" stroke-width="0.22">Rear fog lights</text>
<text x="172" y="630.8" font-size="9.7" font-weight="bold" font-style="italic" fill="#111" stroke="#111" stroke-width="0.22">Direction indicators</text>
<text x="172" y="641" font-size="9.7" font-weight="bold" font-style="italic" fill="#111" stroke="#111" stroke-width="0.22">and hazard warning</text>
<text x="458.4" y="469.6" font-size="9.75" font-weight="bold" font-style="italic" fill="#111" text-anchor="middle" stroke="#111" stroke-width="0.22">Key to items</text>
<text x="392" y="481.4" font-size="9.8" fill="#222" stroke="#222" stroke-width="0.22">1</text>
<text x="407.1" y="481.4" font-size="9.8" fill="#222" stroke="#222" stroke-width="0.22">Battery</text>
<text x="392" y="492.6" font-size="9.8" fill="#222" stroke="#222" stroke-width="0.22">4</text>
<text x="407.1" y="492.6" font-size="9.8" fill="#222" stroke="#222" stroke-width="0.22">Ignition switch</text>
<text x="392" y="503.8" font-size="9.8" fill="#222" stroke="#222" stroke-width="0.22">45</text>
<text x="407.1" y="503.8" font-size="9.8" fill="#222" stroke="#222" stroke-width="0.22">Light switch</text>
<text x="392" y="515.0" font-size="9.8" fill="#222" stroke="#222" stroke-width="0.22">59</text>
<text x="407.1" y="515.0" font-size="9.8" fill="#222" stroke="#222" stroke-width="0.22">Direction indicator/</text>
<text x="407.1" y="526.2" font-size="9.8" fill="#222" stroke="#222" stroke-width="0.22">hazard warning switch</text>
<text x="392" y="537.4" font-size="9.8" fill="#222" stroke="#222" stroke-width="0.22">60</text>
<text x="407.1" y="537.4" font-size="9.8" fill="#222" stroke="#222" stroke-width="0.22">Direction indicator relay</text>
<text x="392" y="548.6" font-size="9.8" fill="#222" stroke="#222" stroke-width="0.22">61</text>
<text x="407.1" y="548.6" font-size="9.8" fill="#222" stroke="#222" stroke-width="0.22">LH front direction indicator</text>
<text x="392" y="559.8" font-size="9.8" fill="#222" stroke="#222" stroke-width="0.22">62</text>
<text x="407.1" y="559.8" font-size="9.8" fill="#222" stroke="#222" stroke-width="0.22">LH side repeater</text>
<text x="392" y="571.0" font-size="9.8" fill="#222" stroke="#222" stroke-width="0.22">63</text>
<text x="407.1" y="571.0" font-size="9.8" fill="#222" stroke="#222" stroke-width="0.22">LH rear direction indicator</text>
<text x="392" y="582.2" font-size="9.8" fill="#222" stroke="#222" stroke-width="0.22">64</text>
<text x="407.1" y="582.2" font-size="9.8" fill="#222" stroke="#222" stroke-width="0.22">RH front direction indicator</text>
<text x="392" y="593.4" font-size="9.8" fill="#222" stroke="#222" stroke-width="0.22">65</text>
<text x="407.1" y="593.4" font-size="9.8" fill="#222" stroke="#222" stroke-width="0.22">RH side repeater</text>
<text x="392" y="604.6" font-size="9.8" fill="#222" stroke="#222" stroke-width="0.22">66</text>
<text x="407.1" y="604.6" font-size="9.8" fill="#222" stroke="#222" stroke-width="0.22">RH rear direction indicator</text>
<text x="392" y="615.8" font-size="9.8" fill="#222" stroke="#222" stroke-width="0.22">67</text>
<text x="407.1" y="615.8" font-size="9.8" fill="#222" stroke="#222" stroke-width="0.22">Number plate lights</text>
<text x="392" y="627.0" font-size="9.8" fill="#222" stroke="#222" stroke-width="0.22">68</text>
<text x="407.1" y="627.0" font-size="9.8" fill="#222" stroke="#222" stroke-width="0.22">Foglight switch</text>
<text x="392" y="638.2" font-size="9.8" fill="#222" stroke="#222" stroke-width="0.22">69</text>
<text x="407.1" y="638.2" font-size="9.8" fill="#222" stroke="#222" stroke-width="0.22">Rear foglight</text>
<text x="819.2" y="628.6" font-size="4.8" fill="#333" textLength="18.8" lengthAdjust="spacingAndGlyphs" stroke="#333" stroke-width="0.22">H31638</text>
<path d="M822.5,631.5 C819.5,631 818.5,635 821.5,634.8 C823.5,634.6 824,632 824.2,631.6 L823,637.5 C822.5,639.5 819.5,639.2 819.8,637.6 M824.8,634.6 C826,632.5 827.5,631.2 829,630.8 M826.5,632 L826,635 M827.5,634.5 C828.5,632.8 830,632.6 830,634 C830.5,632.8 831.5,632.5 832,633.5 M833,630.5 L832,635 M834.5,632 L832.5,633.6 L835.5,635" fill="none" stroke="#111" stroke-width="1.1" stroke-linecap="round"/>
</svg></body></html>
